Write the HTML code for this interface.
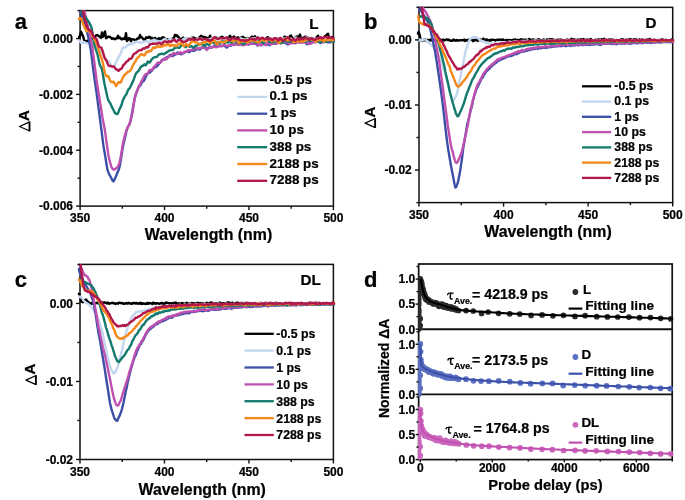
<!DOCTYPE html>
<html><head><meta charset="utf-8"><style>
html,body{margin:0;padding:0;background:#fff;}
.w{width:685px;height:500px;will-change:transform;background:#fff;}
svg{display:block;}
</style></head><body><div class="w">
<svg width="685" height="500" viewBox="0 0 685 500">
<defs><clipPath id="ca"><rect x="77.89999999999999" y="10.299999999999999" width="257.29999999999995" height="196.1"/></clipPath><clipPath id="cb"><rect x="416.8" y="6.75" width="257.70000000000005" height="196.45"/></clipPath><clipPath id="cc"><rect x="77.8" y="263.79999999999995" width="257.4" height="196.3"/></clipPath><clipPath id="cd"><rect x="418.2" y="263.5" width="255.20000000000005" height="196.60000000000002"/></clipPath></defs>
<rect width="685" height="500" fill="#fff"/>
<rect x="80.1" y="10.6" width="253.30" height="195.50" fill="none" stroke="#111" stroke-width="1.5"/>
<polyline points="78.0,37.2 79.0,37.0 80.0,35.9 81.0,31.6 82.0,34.0 83.0,36.0 84.0,39.7 85.0,41.7 86.0,40.9 87.0,41.9 88.0,40.4 89.0,40.4 90.0,39.2 91.0,38.2 92.0,38.8 93.0,38.9 94.0,37.4 95.0,36.4 96.0,35.5 97.0,35.0 98.0,35.5 99.0,36.3 100.0,36.9 101.0,37.9 102.0,32.4 103.0,36.8 104.0,35.3 105.0,31.4 106.0,38.2 107.0,37.8 108.0,36.7 109.0,36.7 110.0,36.9 111.0,37.8 112.0,38.9 113.0,38.3 114.0,38.7 115.0,39.3 116.0,38.5 117.0,38.3 118.0,35.8 119.0,38.2 120.0,37.5 121.0,38.9 122.0,39.4 123.0,38.3 124.0,38.9 125.0,39.0 126.0,33.2 127.0,41.0 128.0,40.0 129.0,38.0 130.0,38.5 131.0,41.3 132.0,39.3 133.0,39.4 134.0,39.4 135.0,40.2 136.0,40.3 137.0,38.9 138.0,38.4 139.0,38.4 140.0,35.0 141.0,37.3 142.0,37.4 143.0,38.7 144.0,40.2 145.0,39.7 146.0,37.5 147.0,37.5 148.0,37.9 149.0,36.7 150.0,37.1 151.0,39.0 152.0,37.8 153.0,39.9 154.0,38.5 155.0,37.9 156.0,39.0 157.0,39.9 158.0,38.8 159.0,38.2 160.0,40.7 161.0,38.6 162.0,37.7 163.0,37.3 164.0,37.7 165.0,38.7 166.0,39.9 167.0,39.9 168.0,39.2 169.0,39.1 170.0,39.1 171.0,39.5 172.0,39.4 173.0,38.5 174.0,37.7 175.0,34.8 176.0,35.9 177.0,35.3 178.0,36.7 179.0,37.5 180.0,39.4 181.0,40.6 182.0,38.5 183.0,37.5 184.0,38.7 185.0,39.1 186.0,38.5 187.0,38.6 188.0,39.4 189.0,38.9 190.0,39.1 191.0,37.9 192.0,37.9 193.0,37.5 194.0,37.8 195.0,38.2 196.0,39.2 197.0,39.3 198.0,38.4 199.0,37.9 200.0,37.0 201.0,35.7 202.0,36.4 203.0,37.2 204.0,36.9 205.0,37.3 206.0,37.5 207.0,37.9 208.0,38.4 209.0,38.9 210.0,35.7 211.0,37.6 212.0,39.8 213.0,40.7 214.0,39.0 215.0,38.1 216.0,37.7 217.0,38.0 218.0,38.9 219.0,38.5 220.0,37.7 221.0,37.3 222.0,36.7 223.0,37.5 224.0,39.1 225.0,39.5 226.0,39.4 227.0,38.7 228.0,37.6 229.0,37.5 230.0,35.7 231.0,38.0 232.0,37.9 233.0,37.3 234.0,36.5 235.0,37.8 236.0,39.5 237.0,38.1 238.0,37.2 239.0,39.0 240.0,39.4 241.0,37.6 242.0,37.2 243.0,36.8 244.0,38.2 245.0,38.3 246.0,38.9 247.0,38.2 248.0,38.0 249.0,38.3 250.0,38.1 251.0,37.5 252.0,36.6 253.0,37.3 254.0,39.0 255.0,36.3 256.0,38.5 257.0,38.4 258.0,37.7 259.0,38.1 260.0,38.7 261.0,38.4 262.0,38.2 263.0,39.1 264.0,40.1 265.0,40.0 266.0,39.0 267.0,37.4 268.0,37.2 269.0,39.3 270.0,40.0 271.0,39.2 272.0,39.4 273.0,40.1 274.0,40.3 275.0,39.7 276.0,39.3 277.0,39.2 278.0,38.4 279.0,39.0 280.0,38.0 281.0,40.7 282.0,41.8 283.0,40.5 284.0,37.2 285.0,36.6 286.0,37.9 287.0,37.9 288.0,38.4 289.0,38.5 290.0,36.1 291.0,35.6 292.0,37.7 293.0,38.6 294.0,38.3 295.0,38.0 296.0,36.8 297.0,36.4 298.0,37.0 299.0,36.5 300.0,34.5 301.0,38.2 302.0,39.0 303.0,38.4 304.0,37.4 305.0,36.8 306.0,36.7 307.0,37.2 308.0,37.9 309.0,38.0 310.0,38.7 311.0,40.2 312.0,40.1 313.0,38.6 314.0,38.7 315.0,38.9 316.0,37.7 317.0,36.8 318.0,35.7 319.0,39.1 320.0,38.9 321.0,38.5 322.0,38.9 323.0,39.6 324.0,38.0 325.0,35.9 326.0,35.6 327.0,34.4 328.0,33.8 329.0,37.0 330.0,39.7 331.0,38.7 332.0,36.9 333.0,37.6 334.0,39.4 335.0,39.4" fill="none" stroke="#000000" stroke-width="2.4" stroke-linejoin="round" clip-path="url(#ca)"/>
<polyline points="78.0,38.6 79.0,40.0 80.0,41.5 81.0,42.8 82.0,43.1 83.0,42.5 84.0,42.2 85.0,42.5 86.0,43.1 87.0,43.4 88.0,43.2 89.0,43.6 90.0,44.0 91.0,44.7 92.0,46.7 93.0,47.3 94.0,46.9 95.0,47.4 96.0,47.1 97.0,46.6 98.0,48.1 99.0,49.7 100.0,50.2 101.0,50.7 102.0,52.0 103.0,53.9 104.0,55.8 105.0,57.0 106.0,58.5 107.0,60.3 108.0,60.8 109.0,61.1 110.0,62.6 111.0,65.3 112.0,66.8 113.0,66.7 114.0,65.8 115.0,64.3 116.0,62.7 117.0,60.8 118.0,58.4 119.0,56.4 120.0,54.8 121.0,52.4 122.0,49.7 123.0,47.6 124.0,47.2 125.0,47.7 126.0,47.0 127.0,45.8 128.0,44.8 129.0,44.1 130.0,44.4 131.0,44.6 132.0,43.7 133.0,43.1 134.0,43.0 135.0,42.4 136.0,41.7 137.0,41.6 138.0,42.1 139.0,42.4 140.0,42.2 141.0,42.8 142.0,43.2 143.0,42.1 144.0,41.5 145.0,41.7 146.0,41.4 147.0,41.1 148.0,42.1 149.0,42.8 150.0,41.7 151.0,40.6 152.0,40.4 153.0,40.4 154.0,39.8 155.0,40.0 156.0,40.7 157.0,40.6 158.0,41.2 159.0,41.7 160.0,41.0 161.0,41.2 162.0,41.5 163.0,40.4 164.0,39.2 165.0,39.0 166.0,40.1 167.0,41.3 168.0,40.8 169.0,39.3 170.0,38.9 171.0,39.4 172.0,39.8 173.0,39.9 174.0,40.0 175.0,40.0 176.0,39.7 177.0,39.7 178.0,39.8 179.0,39.9 180.0,40.6 181.0,41.3 182.0,40.7 183.0,39.3 184.0,38.7 185.0,38.7 186.0,38.0 187.0,38.3 188.0,39.9 189.0,40.3 190.0,39.1 191.0,38.3 192.0,38.5 193.0,39.2 194.0,40.5 195.0,41.3 196.0,40.1 197.0,38.7 198.0,38.5 199.0,39.0 200.0,39.0 201.0,38.7 202.0,38.8 203.0,39.1 204.0,40.2 205.0,40.9 206.0,40.4 207.0,39.7 208.0,39.6 209.0,39.4 210.0,39.0 211.0,38.7 212.0,38.0 213.0,38.3 214.0,39.4 215.0,39.6 216.0,39.8 217.0,39.6 218.0,38.4 219.0,38.4 220.0,39.4 221.0,39.6 222.0,39.6 223.0,40.0 224.0,39.5 225.0,38.4 226.0,38.7 227.0,39.8 228.0,39.3 229.0,38.7 230.0,39.8 231.0,40.6 232.0,40.3 233.0,39.5 234.0,38.7 235.0,39.4 236.0,40.6 237.0,40.6 238.0,40.1 239.0,39.5 240.0,38.7 241.0,38.2 242.0,38.9 243.0,39.4 244.0,39.2 245.0,39.7 246.0,39.6 247.0,38.6 248.0,38.5 249.0,38.8 250.0,39.0 251.0,38.7 252.0,38.5 253.0,38.5 254.0,38.1 255.0,38.1 256.0,39.1 257.0,39.4 258.0,38.6 259.0,38.6 260.0,38.5 261.0,38.7 262.0,39.4 263.0,39.7 264.0,39.8 265.0,39.4 266.0,39.2 267.0,39.0 268.0,38.9 269.0,39.4 270.0,39.6 271.0,39.6 272.0,39.1 273.0,38.5 274.0,38.9 275.0,39.6 276.0,39.6 277.0,39.0 278.0,38.4 279.0,38.3 280.0,38.8 281.0,38.2 282.0,37.7 283.0,39.0 284.0,39.4 285.0,38.2 286.0,37.8 287.0,38.0 288.0,38.4 289.0,38.8 290.0,38.6 291.0,38.7 292.0,39.1 293.0,39.1 294.0,38.9 295.0,38.3 296.0,37.5 297.0,38.2 298.0,39.7 299.0,39.7 300.0,39.3 301.0,39.3 302.0,39.3 303.0,39.9 304.0,40.1 305.0,38.6 306.0,37.5 307.0,37.6 308.0,38.3 309.0,39.5 310.0,39.7 311.0,38.4 312.0,37.9 313.0,39.0 314.0,39.1 315.0,38.0 316.0,38.3 317.0,39.0 318.0,39.2 319.0,38.7 320.0,38.2 321.0,37.8 322.0,38.5 323.0,40.1 324.0,40.1 325.0,38.9 326.0,37.9 327.0,37.6 328.0,38.3 329.0,39.0 330.0,39.1 331.0,38.7 332.0,38.4 333.0,38.8 334.0,39.6 335.0,40.0" fill="none" stroke="#c2d6ef" stroke-width="2.4" stroke-linejoin="round" clip-path="url(#ca)"/>
<polyline points="78.5,1.0 79.5,8.5 80.5,12.3 81.5,15.3 82.5,17.6 83.5,20.0 84.5,23.0 85.5,26.2 86.5,29.9 87.5,33.8 88.5,38.1 89.5,42.9 90.5,48.3 91.5,55.2 92.5,63.4 93.5,71.4 94.5,78.8 95.5,85.5 96.5,92.2 97.5,99.9 98.5,107.5 99.5,115.3 100.5,122.9 101.5,130.3 102.5,138.6 103.5,146.1 104.5,152.0 105.5,157.8 106.5,164.2 107.5,169.9 108.5,172.7 109.5,174.8 110.5,176.5 111.5,178.5 112.5,180.6 113.5,181.4 114.5,179.6 115.5,177.2 116.5,174.9 117.5,172.5 118.5,170.3 119.5,166.9 120.5,161.9 121.5,155.8 122.5,149.1 123.5,144.0 124.5,139.7 125.5,135.4 126.5,131.1 127.5,127.7 128.5,126.0 129.5,124.3 130.5,121.0 131.5,115.9 132.5,110.0 133.5,104.9 134.5,99.3 135.5,95.1 136.5,92.7 137.5,89.9 138.5,87.3 139.5,86.2 140.5,85.1 141.5,83.1 142.5,81.8 143.5,81.3 144.5,79.7 145.5,77.3 146.5,75.3 147.5,73.6 148.5,72.9 149.5,72.7 150.5,71.9 151.5,71.0 152.5,69.9 153.5,68.4 154.5,67.6 155.5,67.2 156.5,66.6 157.5,65.7 158.5,64.4 159.5,63.1 160.5,62.1 161.5,60.6 162.5,59.7 163.5,59.9 164.5,59.6 165.5,58.5 166.5,57.3 167.5,56.9 168.5,56.6 169.5,55.5 170.5,54.8 171.5,55.4 172.5,56.1 173.5,55.5 174.5,54.6 175.5,54.5 176.5,53.8 177.5,52.5 178.5,52.9 179.5,53.7 180.5,54.0 181.5,54.2 182.5,53.7 183.5,52.8 184.5,52.4 185.5,52.1 186.5,51.3 187.5,51.3 188.5,52.1 189.5,52.1 190.5,51.0 191.5,50.4 192.5,50.7 193.5,50.8 194.5,50.6 195.5,50.2 196.5,49.3 197.5,48.8 198.5,49.1 199.5,49.6 200.5,49.1 201.5,47.7 202.5,47.5 203.5,48.0 204.5,47.4 205.5,47.2 206.5,48.1 207.5,48.3 208.5,47.7 209.5,47.5 210.5,47.6 211.5,47.5 212.5,47.2 213.5,46.3 214.5,46.0 215.5,46.2 216.5,46.3 217.5,46.6 218.5,46.3 219.5,45.7 220.5,45.7 221.5,45.9 222.5,46.0 223.5,45.4 224.5,45.5 225.5,46.7 226.5,47.6 227.5,47.1 228.5,45.9 229.5,45.7 230.5,45.9 231.5,45.0 232.5,44.3 233.5,44.7 234.5,44.8 235.5,43.9 236.5,43.1 237.5,43.5 238.5,44.3 239.5,44.2 240.5,44.2 241.5,44.7 242.5,44.7 243.5,44.5 244.5,44.3 245.5,43.8 246.5,43.5 247.5,43.9 248.5,44.5 249.5,44.2 250.5,43.6 251.5,43.6 252.5,44.0 253.5,43.9 254.5,43.0 255.5,42.8 256.5,44.1 257.5,45.5 258.5,45.1 259.5,44.2 260.5,44.7 261.5,45.1 262.5,44.1 263.5,43.7 264.5,44.4 265.5,44.4 266.5,44.0 267.5,44.0 268.5,44.9 269.5,45.2 270.5,44.4 271.5,43.4 272.5,42.6 273.5,43.1 274.5,43.5 275.5,43.7 276.5,43.7 277.5,42.7 278.5,42.2 279.5,42.7 280.5,42.7 281.5,42.5 282.5,42.5 283.5,42.0 284.5,41.9 285.5,43.1 286.5,43.7 287.5,44.2 288.5,44.3 289.5,42.9 290.5,41.5 291.5,41.4 292.5,41.6 293.5,42.1 294.5,42.0 295.5,41.6 296.5,41.8 297.5,41.9 298.5,42.3 299.5,42.4 300.5,42.3 301.5,42.2 302.5,41.9 303.5,41.4 304.5,41.2 305.5,42.4 306.5,43.9 307.5,44.3 308.5,43.8 309.5,42.8 310.5,42.4 311.5,42.8 312.5,42.5 313.5,41.9 314.5,41.9 315.5,41.9 316.5,41.8 317.5,41.5 318.5,41.2 319.5,42.0 320.5,43.1 321.5,42.4 322.5,41.8 323.5,42.2 324.5,42.0 325.5,41.2 326.5,41.5 327.5,42.2 328.5,42.1 329.5,42.2 330.5,42.3 331.5,41.6 332.5,41.2 333.5,41.6 334.5,42.2" fill="none" stroke="#3b4fa6" stroke-width="2.4" stroke-linejoin="round" clip-path="url(#ca)"/>
<polyline points="78.5,-8.0 79.5,-5.3 80.5,-1.8 81.5,2.0 82.5,5.8 83.5,8.8 84.5,11.6 85.5,15.8 86.5,20.0 87.5,24.3 88.5,29.2 89.5,33.2 90.5,37.7 91.5,43.5 92.5,49.3 93.5,56.0 94.5,63.6 95.5,71.6 96.5,79.7 97.5,86.3 98.5,92.1 99.5,98.6 100.5,104.9 101.5,111.3 102.5,117.8 103.5,122.8 104.5,128.0 105.5,134.8 106.5,141.8 107.5,148.8 108.5,155.4 109.5,160.0 110.5,163.9 111.5,167.1 112.5,168.7 113.5,169.5 114.5,169.5 115.5,168.6 116.5,168.0 117.5,167.2 118.5,165.4 119.5,162.3 120.5,158.3 121.5,152.3 122.5,145.8 123.5,140.9 124.5,137.1 125.5,133.4 126.5,130.0 127.5,127.7 128.5,125.7 129.5,123.6 130.5,120.7 131.5,117.0 132.5,112.5 133.5,106.4 134.5,99.2 135.5,94.7 136.5,92.2 137.5,89.9 138.5,87.1 139.5,85.0 140.5,83.3 141.5,81.1 142.5,79.3 143.5,77.5 144.5,75.4 145.5,74.3 146.5,74.1 147.5,73.6 148.5,71.9 149.5,70.1 150.5,69.9 151.5,70.1 152.5,69.1 153.5,67.4 154.5,66.2 155.5,65.6 156.5,64.2 157.5,62.7 158.5,62.6 159.5,63.0 160.5,62.4 161.5,61.3 162.5,60.3 163.5,59.5 164.5,58.4 165.5,58.5 166.5,59.3 167.5,58.1 168.5,56.4 169.5,55.9 170.5,56.2 171.5,56.0 172.5,54.3 173.5,53.1 174.5,53.4 175.5,53.7 176.5,53.9 177.5,54.1 178.5,53.7 179.5,52.8 180.5,52.1 181.5,52.9 182.5,53.6 183.5,52.7 184.5,51.7 185.5,51.8 186.5,51.7 187.5,50.5 188.5,50.1 189.5,50.6 190.5,50.4 191.5,49.8 192.5,49.5 193.5,49.3 194.5,49.1 195.5,48.5 196.5,48.0 197.5,48.5 198.5,48.7 199.5,47.9 200.5,47.9 201.5,48.0 202.5,47.5 203.5,47.2 204.5,47.4 205.5,48.6 206.5,49.9 207.5,49.2 208.5,47.9 209.5,47.4 210.5,47.2 211.5,47.4 212.5,47.3 213.5,46.5 214.5,46.7 215.5,47.1 216.5,47.2 217.5,46.5 218.5,45.8 219.5,46.2 220.5,46.4 221.5,46.2 222.5,45.8 223.5,44.7 224.5,44.2 225.5,45.5 226.5,46.1 227.5,45.6 228.5,45.6 229.5,45.6 230.5,44.8 231.5,44.3 232.5,44.9 233.5,45.1 234.5,44.6 235.5,44.8 236.5,44.3 237.5,44.1 238.5,45.0 239.5,44.4 240.5,43.5 241.5,44.1 242.5,45.2 243.5,45.3 244.5,44.5 245.5,44.6 246.5,44.6 247.5,44.1 248.5,44.1 249.5,44.0 250.5,43.5 251.5,43.5 252.5,43.9 253.5,43.8 254.5,43.4 255.5,43.8 256.5,44.5 257.5,44.6 258.5,44.8 259.5,45.0 260.5,45.2 261.5,45.1 262.5,44.1 263.5,43.7 264.5,44.2 265.5,45.2 266.5,44.6 267.5,42.4 268.5,42.4 269.5,43.8 270.5,44.3 271.5,44.0 272.5,43.6 273.5,43.7 274.5,43.8 275.5,43.7 276.5,43.1 277.5,42.2 278.5,42.5 279.5,42.9 280.5,43.3 281.5,42.9 282.5,42.5 283.5,42.6 284.5,42.2 285.5,41.5 286.5,41.6 287.5,42.5 288.5,43.5 289.5,43.6 290.5,43.4 291.5,43.4 292.5,43.0 293.5,42.8 294.5,43.3 295.5,43.4 296.5,42.6 297.5,42.3 298.5,42.4 299.5,42.2 300.5,42.3 301.5,42.7 302.5,42.6 303.5,42.3 304.5,42.1 305.5,42.4 306.5,42.5 307.5,42.8 308.5,43.5 309.5,43.7 310.5,43.8 311.5,43.1 312.5,41.9 313.5,41.8 314.5,42.2 315.5,42.2 316.5,42.0 317.5,41.2 318.5,40.6 319.5,40.5 320.5,40.5 321.5,41.1 322.5,41.2 323.5,41.0 324.5,41.5 325.5,41.4 326.5,40.3 327.5,39.7 328.5,39.7 329.5,39.6 330.5,40.8 331.5,41.9 332.5,41.6 333.5,41.1 334.5,40.8" fill="none" stroke="#bf50b0" stroke-width="2.4" stroke-linejoin="round" clip-path="url(#ca)"/>
<polyline points="78.5,0.5 79.5,2.1 80.5,5.0 81.5,10.7 82.5,13.9 83.5,15.3 84.5,15.9 85.5,17.2 86.5,18.8 87.5,20.2 88.5,21.4 89.5,23.2 90.5,25.1 91.5,27.7 92.5,32.9 93.5,40.2 94.5,45.2 95.5,48.4 96.5,51.4 97.5,54.3 98.5,59.1 99.5,64.0 100.5,66.3 101.5,67.9 102.5,72.0 103.5,78.2 104.5,83.9 105.5,88.4 106.5,92.9 107.5,97.5 108.5,100.6 109.5,102.1 110.5,103.7 111.5,106.1 112.5,108.1 113.5,110.0 114.5,112.4 115.5,113.5 116.5,114.0 117.5,114.1 118.5,111.9 119.5,109.0 120.5,107.4 121.5,105.1 122.5,101.5 123.5,98.9 124.5,96.9 125.5,95.5 126.5,94.1 127.5,91.3 128.5,89.4 129.5,88.4 130.5,86.5 131.5,84.5 132.5,82.3 133.5,80.2 134.5,77.4 135.5,74.3 136.5,72.8 137.5,72.0 138.5,70.9 139.5,69.4 140.5,67.3 141.5,66.3 142.5,66.1 143.5,65.1 144.5,64.3 145.5,65.3 146.5,64.3 147.5,61.6 148.5,61.7 149.5,62.7 150.5,61.5 151.5,59.7 152.5,58.5 153.5,57.7 154.5,57.2 155.5,57.1 156.5,57.0 157.5,56.1 158.5,54.9 159.5,54.3 160.5,54.1 161.5,53.6 162.5,53.8 163.5,54.2 164.5,53.8 165.5,53.1 166.5,52.5 167.5,51.7 168.5,51.0 169.5,50.7 170.5,50.4 171.5,49.9 172.5,50.1 173.5,49.4 174.5,48.1 175.5,47.7 176.5,47.6 177.5,47.6 178.5,47.7 179.5,47.8 180.5,46.3 181.5,44.8 182.5,44.7 183.5,44.9 184.5,46.1 185.5,47.3 186.5,46.5 187.5,44.9 188.5,45.4 189.5,46.8 190.5,46.4 191.5,46.0 192.5,47.0 193.5,47.9 194.5,47.1 195.5,45.8 196.5,45.6 197.5,45.4 198.5,44.4 199.5,43.9 200.5,44.1 201.5,44.1 202.5,44.4 203.5,45.5 204.5,46.0 205.5,44.7 206.5,43.9 207.5,44.3 208.5,44.8 209.5,44.8 210.5,43.6 211.5,42.4 212.5,41.9 213.5,42.5 214.5,43.6 215.5,43.3 216.5,42.5 217.5,42.7 218.5,43.3 219.5,43.4 220.5,42.8 221.5,42.0 222.5,41.2 223.5,42.1 224.5,42.9 225.5,41.7 226.5,41.8 227.5,42.7 228.5,42.2 229.5,41.9 230.5,42.3 231.5,42.5 232.5,41.8 233.5,41.1 234.5,41.4 235.5,41.6 236.5,41.8 237.5,42.6 238.5,43.2 239.5,43.0 240.5,42.6 241.5,43.2 242.5,43.8 243.5,44.0 244.5,43.5 245.5,42.5 246.5,42.2 247.5,42.1 248.5,41.4 249.5,41.5 250.5,41.5 251.5,40.9 252.5,40.2 253.5,40.6 254.5,41.9 255.5,42.9 256.5,42.9 257.5,42.0 258.5,41.3 259.5,41.2 260.5,41.6 261.5,41.9 262.5,42.7 263.5,43.2 264.5,41.7 265.5,40.2 266.5,39.9 267.5,39.7 268.5,40.6 269.5,42.1 270.5,41.6 271.5,40.7 272.5,41.8 273.5,42.5 274.5,41.4 275.5,40.6 276.5,41.0 277.5,41.7 278.5,42.3 279.5,42.9 280.5,43.0 281.5,43.1 282.5,42.9 283.5,41.6 284.5,40.3 285.5,40.6 286.5,41.2 287.5,41.3 288.5,41.5 289.5,40.8 290.5,40.8 291.5,42.0 292.5,42.1 293.5,41.8 294.5,42.1 295.5,42.2 296.5,40.7 297.5,39.0 298.5,39.3 299.5,39.9 300.5,40.1 301.5,41.1 302.5,41.6 303.5,40.5 304.5,40.5 305.5,41.7 306.5,40.7 307.5,39.8 308.5,40.6 309.5,40.8 310.5,40.6 311.5,40.8 312.5,40.2 313.5,39.8 314.5,40.7 315.5,41.0 316.5,40.5 317.5,40.5 318.5,41.6 319.5,42.3 320.5,41.5 321.5,41.2 322.5,40.9 323.5,40.6 324.5,41.2 325.5,41.8 326.5,41.8 327.5,40.9 328.5,39.9 329.5,39.9 330.5,40.7 331.5,41.5 332.5,41.7 333.5,41.5 334.5,41.2" fill="none" stroke="#137a6d" stroke-width="2.4" stroke-linejoin="round" clip-path="url(#ca)"/>
<polyline points="78.0,19.7 79.0,18.9 80.0,17.9 81.0,18.3 82.0,20.4 83.0,23.8 84.0,26.0 85.0,28.2 86.0,30.3 87.0,31.4 88.0,31.3 89.0,30.6 90.0,30.8 91.0,32.5 92.0,34.4 93.0,36.0 94.0,38.7 95.0,41.0 96.0,42.4 97.0,44.7 98.0,47.5 99.0,50.7 100.0,54.1 101.0,57.0 102.0,59.8 103.0,63.4 104.0,69.0 105.0,72.8 106.0,75.8 107.0,76.5 108.0,76.0 109.0,77.6 110.0,80.3 111.0,81.9 112.0,82.1 113.0,81.6 114.0,82.1 115.0,84.6 116.0,86.0 117.0,84.7 118.0,82.9 119.0,81.9 120.0,82.8 121.0,82.1 122.0,79.3 123.0,77.5 124.0,75.7 125.0,74.4 126.0,73.9 127.0,72.6 128.0,71.7 129.0,71.6 130.0,70.9 131.0,69.5 132.0,67.5 133.0,65.1 134.0,63.3 135.0,62.1 136.0,60.3 137.0,58.4 138.0,57.5 139.0,56.6 140.0,55.3 141.0,54.3 142.0,54.2 143.0,54.8 144.0,55.5 145.0,54.8 146.0,52.4 147.0,51.6 148.0,52.1 149.0,51.2 150.0,50.9 151.0,51.1 152.0,49.5 153.0,47.6 154.0,47.3 155.0,48.0 156.0,47.6 157.0,46.1 158.0,46.0 159.0,47.0 160.0,46.9 161.0,46.3 162.0,46.6 163.0,46.0 164.0,44.6 165.0,45.0 166.0,45.6 167.0,44.4 168.0,43.5 169.0,44.5 170.0,46.1 171.0,45.6 172.0,44.8 173.0,45.5 174.0,45.2 175.0,45.4 176.0,46.2 177.0,45.7 178.0,44.5 179.0,43.8 180.0,44.0 181.0,43.0 182.0,43.0 183.0,45.4 184.0,46.2 185.0,45.1 186.0,44.3 187.0,45.0 188.0,45.9 189.0,45.3 190.0,43.6 191.0,42.4 192.0,41.9 193.0,40.9 194.0,41.1 195.0,42.2 196.0,42.2 197.0,42.4 198.0,43.4 199.0,44.6 200.0,44.3 201.0,43.5 202.0,43.1 203.0,42.2 204.0,42.2 205.0,42.5 206.0,41.6 207.0,41.1 208.0,41.2 209.0,42.4 210.0,43.1 211.0,42.2 212.0,41.6 213.0,41.0 214.0,40.3 215.0,41.1 216.0,43.4 217.0,44.3 218.0,42.8 219.0,41.7 220.0,41.9 221.0,42.0 222.0,42.2 223.0,42.3 224.0,42.1 225.0,41.9 226.0,41.2 227.0,40.4 228.0,39.9 229.0,40.0 230.0,40.2 231.0,40.4 232.0,40.7 233.0,41.3 234.0,41.2 235.0,40.2 236.0,39.8 237.0,40.6 238.0,42.1 239.0,43.1 240.0,42.3 241.0,41.8 242.0,41.6 243.0,41.1 244.0,41.4 245.0,40.2 246.0,39.8 247.0,42.6 248.0,42.8 249.0,40.9 250.0,40.7 251.0,40.9 252.0,40.4 253.0,39.6 254.0,40.1 255.0,41.1 256.0,41.7 257.0,41.9 258.0,42.2 259.0,42.3 260.0,41.2 261.0,40.0 262.0,39.0 263.0,39.6 264.0,40.9 265.0,40.7 266.0,40.7 267.0,40.4 268.0,39.7 269.0,39.8 270.0,39.9 271.0,40.3 272.0,41.2 273.0,41.1 274.0,40.0 275.0,39.7 276.0,40.3 277.0,40.9 278.0,42.1 279.0,43.0 280.0,42.0 281.0,40.6 282.0,39.9 283.0,39.3 284.0,39.0 285.0,39.1 286.0,39.5 287.0,40.1 288.0,40.5 289.0,40.1 290.0,39.5 291.0,39.8 292.0,41.1 293.0,41.8 294.0,41.9 295.0,41.9 296.0,41.4 297.0,40.7 298.0,41.5 299.0,41.8 300.0,40.5 301.0,41.0 302.0,41.8 303.0,41.2 304.0,41.1 305.0,40.9 306.0,40.0 307.0,39.6 308.0,39.1 309.0,38.8 310.0,39.1 311.0,39.5 312.0,40.0 313.0,39.7 314.0,39.6 315.0,41.2 316.0,41.6 317.0,40.6 318.0,39.7 319.0,39.7 320.0,40.2 321.0,39.6 322.0,38.8 323.0,40.7 324.0,41.4 325.0,39.7 326.0,39.8 327.0,40.2 328.0,40.1 329.0,40.1 330.0,39.2 331.0,39.8 332.0,40.6 333.0,39.8 334.0,39.1 335.0,39.4" fill="none" stroke="#f4891a" stroke-width="2.4" stroke-linejoin="round" clip-path="url(#ca)"/>
<polyline points="78.5,-14.7 79.5,-8.2 80.5,-2.7 81.5,2.7 82.5,8.0 83.5,13.7 84.5,18.1 85.5,21.1 86.5,25.5 87.5,27.6 88.5,29.2 89.5,30.6 90.5,30.2 91.5,31.5 92.5,34.4 93.5,36.3 94.5,37.8 95.5,38.2 96.5,38.9 97.5,42.0 98.5,45.3 99.5,47.0 100.5,47.4 101.5,47.9 102.5,50.7 103.5,54.2 104.5,57.8 105.5,59.3 106.5,60.7 107.5,63.3 108.5,65.4 109.5,66.0 110.5,65.9 111.5,66.4 112.5,66.7 113.5,66.3 114.5,67.2 115.5,68.9 116.5,69.3 117.5,70.0 118.5,70.9 119.5,69.9 120.5,68.9 121.5,68.7 122.5,66.9 123.5,64.9 124.5,64.3 125.5,63.1 126.5,61.6 127.5,61.2 128.5,60.1 129.5,58.8 130.5,58.9 131.5,58.5 132.5,56.5 133.5,54.4 134.5,53.6 135.5,53.4 136.5,52.4 137.5,51.4 138.5,51.0 139.5,50.0 140.5,50.1 141.5,50.3 142.5,48.9 143.5,48.4 144.5,48.7 145.5,47.8 146.5,47.1 147.5,47.5 148.5,46.7 149.5,44.7 150.5,44.1 151.5,44.1 152.5,43.7 153.5,43.5 154.5,43.7 155.5,43.8 156.5,43.4 157.5,43.5 158.5,43.4 159.5,42.7 160.5,43.4 161.5,44.2 162.5,43.2 163.5,42.0 164.5,41.5 165.5,41.4 166.5,42.1 167.5,42.3 168.5,41.3 169.5,41.5 170.5,42.0 171.5,41.4 172.5,40.8 173.5,40.0 174.5,39.7 175.5,41.0 176.5,42.1 177.5,41.0 178.5,39.8 179.5,39.8 180.5,40.4 181.5,40.9 182.5,41.5 183.5,42.0 184.5,41.8 185.5,41.5 186.5,41.2 187.5,40.1 188.5,39.2 189.5,39.4 190.5,39.8 191.5,39.0 192.5,38.6 193.5,39.7 194.5,39.8 195.5,39.3 196.5,39.4 197.5,39.7 198.5,39.6 199.5,38.6 200.5,38.7 201.5,39.7 202.5,39.8 203.5,39.3 204.5,38.8 205.5,38.8 206.5,39.7 207.5,40.1 208.5,39.8 209.5,40.7 210.5,40.6 211.5,39.8 212.5,39.4 213.5,38.0 214.5,37.1 215.5,37.7 216.5,38.5 217.5,38.9 218.5,39.0 219.5,38.5 220.5,38.0 221.5,38.4 222.5,38.3 223.5,38.2 224.5,38.4 225.5,37.8 226.5,37.5 227.5,38.1 228.5,39.2 229.5,40.0 230.5,39.7 231.5,38.5 232.5,38.0 233.5,38.5 234.5,38.6 235.5,38.4 236.5,39.3 237.5,39.1 238.5,38.7 239.5,39.7 240.5,40.4 241.5,40.4 242.5,40.3 243.5,40.3 244.5,40.8 245.5,40.7 246.5,40.2 247.5,40.4 248.5,40.0 249.5,39.0 250.5,38.5 251.5,39.0 252.5,39.2 253.5,38.8 254.5,39.4 255.5,39.9 256.5,38.7 257.5,37.6 258.5,38.5 259.5,39.4 260.5,38.9 261.5,38.0 262.5,37.6 263.5,38.5 264.5,39.2 265.5,38.9 266.5,38.3 267.5,38.9 268.5,39.5 269.5,39.3 270.5,38.5 271.5,39.1 272.5,40.3 273.5,39.0 274.5,38.1 275.5,38.2 276.5,38.6 277.5,40.3 278.5,40.6 279.5,38.5 280.5,37.9 281.5,39.7 282.5,40.6 283.5,40.5 284.5,39.9 285.5,38.7 286.5,38.0 287.5,37.3 288.5,37.7 289.5,38.9 290.5,39.7 291.5,40.5 292.5,39.6 293.5,38.8 294.5,40.0 295.5,40.8 296.5,39.5 297.5,38.3 298.5,39.2 299.5,39.9 300.5,38.7 301.5,38.4 302.5,39.4 303.5,38.9 304.5,37.9 305.5,37.8 306.5,38.2 307.5,38.8 308.5,39.4 309.5,40.0 310.5,39.1 311.5,38.0 312.5,38.8 313.5,39.7 314.5,39.8 315.5,39.5 316.5,38.3 317.5,38.1 318.5,38.6 319.5,37.4 320.5,37.0 321.5,38.3 322.5,38.3 323.5,37.6 324.5,36.9 325.5,36.6 326.5,37.0 327.5,38.0 328.5,37.8 329.5,37.2 330.5,37.8 331.5,37.5 332.5,37.5 333.5,38.6 334.5,38.7" fill="none" stroke="#b2174b" stroke-width="2.4" stroke-linejoin="round" clip-path="url(#ca)"/>
<line x1="80.10" y1="206.1" x2="80.10" y2="210.1" stroke="#111" stroke-width="1.4"/>
<text x="80.1" y="222" font-size="12" text-anchor="middle" font-family="Liberation Sans, sans-serif" font-weight="bold" stroke="#000" stroke-width="0.22" >350</text>
<line x1="122.32" y1="206.1" x2="122.32" y2="208.7" stroke="#111" stroke-width="1.4"/>
<line x1="164.53" y1="206.1" x2="164.53" y2="210.1" stroke="#111" stroke-width="1.4"/>
<text x="164.5" y="222" font-size="12" text-anchor="middle" font-family="Liberation Sans, sans-serif" font-weight="bold" stroke="#000" stroke-width="0.22" >400</text>
<line x1="206.75" y1="206.1" x2="206.75" y2="208.7" stroke="#111" stroke-width="1.4"/>
<line x1="248.97" y1="206.1" x2="248.97" y2="210.1" stroke="#111" stroke-width="1.4"/>
<text x="249.0" y="222" font-size="12" text-anchor="middle" font-family="Liberation Sans, sans-serif" font-weight="bold" stroke="#000" stroke-width="0.22" >450</text>
<line x1="291.18" y1="206.1" x2="291.18" y2="208.7" stroke="#111" stroke-width="1.4"/>
<line x1="333.40" y1="206.1" x2="333.40" y2="210.1" stroke="#111" stroke-width="1.4"/>
<text x="333.4" y="222" font-size="12" text-anchor="middle" font-family="Liberation Sans, sans-serif" font-weight="bold" stroke="#000" stroke-width="0.22" >500</text>
<line x1="80.1" y1="10.60" x2="77.5" y2="10.60" stroke="#111" stroke-width="1.4"/>
<line x1="80.1" y1="38.53" x2="76.1" y2="38.53" stroke="#111" stroke-width="1.4"/>
<text x="73" y="42.8" font-size="12" text-anchor="end" font-family="Liberation Sans, sans-serif" font-weight="bold" stroke="#000" stroke-width="0.22" >0.000</text>
<line x1="80.1" y1="66.46" x2="77.5" y2="66.46" stroke="#111" stroke-width="1.4"/>
<line x1="80.1" y1="94.39" x2="76.1" y2="94.39" stroke="#111" stroke-width="1.4"/>
<text x="73" y="98.7" font-size="12" text-anchor="end" font-family="Liberation Sans, sans-serif" font-weight="bold" stroke="#000" stroke-width="0.22" >-0.002</text>
<line x1="80.1" y1="122.31" x2="77.5" y2="122.31" stroke="#111" stroke-width="1.4"/>
<line x1="80.1" y1="150.24" x2="76.1" y2="150.24" stroke="#111" stroke-width="1.4"/>
<text x="73" y="154.5" font-size="12" text-anchor="end" font-family="Liberation Sans, sans-serif" font-weight="bold" stroke="#000" stroke-width="0.22" >-0.004</text>
<line x1="80.1" y1="178.17" x2="77.5" y2="178.17" stroke="#111" stroke-width="1.4"/>
<line x1="80.1" y1="206.10" x2="76.1" y2="206.10" stroke="#111" stroke-width="1.4"/>
<text x="73" y="210.4" font-size="12" text-anchor="end" font-family="Liberation Sans, sans-serif" font-weight="bold" stroke="#000" stroke-width="0.22" >-0.006</text>
<text x="14.8" y="28.7" font-size="22" text-anchor="start" font-family="Liberation Sans, sans-serif" font-weight="bold" stroke="#000" stroke-width="0.22" >a</text>
<text x="309.2" y="29.1" font-size="15.2" text-anchor="start" font-family="Liberation Sans, sans-serif" font-weight="bold" stroke="#000" stroke-width="0.22" >L</text>
<text x="208.5" y="240.3" font-size="15.9" text-anchor="middle" font-family="Liberation Sans, sans-serif" font-weight="bold" stroke="#000" stroke-width="0.22" >Wavelength (nm)</text>
<path d="M29.70,121.90 L19.50,126.50 L29.70,131.00" fill="none" stroke="#000" stroke-width="1.2" stroke-linejoin="round"/><line x1="29.50" y1="121.60" x2="29.50" y2="131.30" stroke="#000" stroke-width="1.9"/><text x="0" y="0" font-size="15" text-anchor="start" font-family="Liberation Sans, sans-serif" font-weight="bold" stroke="#000" stroke-width="0.22" transform="translate(29.00,121.00) rotate(-90)">A</text>
<line x1="237.2" y1="80.1" x2="267.2" y2="80.1" stroke="#000000" stroke-width="2.3"/>
<text x="269.6" y="83.6" font-size="13.4" text-anchor="start" font-family="Liberation Sans, sans-serif" font-weight="bold" stroke="#000" stroke-width="0.22" >-0.5 ps</text>
<line x1="237.2" y1="96.9" x2="267.2" y2="96.9" stroke="#c2d6ef" stroke-width="2.3"/>
<text x="269.6" y="100.4" font-size="13.4" text-anchor="start" font-family="Liberation Sans, sans-serif" font-weight="bold" stroke="#000" stroke-width="0.22" >0.1 ps</text>
<line x1="237.2" y1="113.7" x2="267.2" y2="113.7" stroke="#3b4fa6" stroke-width="2.3"/>
<text x="269.6" y="117.2" font-size="13.4" text-anchor="start" font-family="Liberation Sans, sans-serif" font-weight="bold" stroke="#000" stroke-width="0.22" >1 ps</text>
<line x1="237.2" y1="130.4" x2="267.2" y2="130.4" stroke="#bf50b0" stroke-width="2.3"/>
<text x="269.6" y="133.9" font-size="13.4" text-anchor="start" font-family="Liberation Sans, sans-serif" font-weight="bold" stroke="#000" stroke-width="0.22" >10 ps</text>
<line x1="237.2" y1="147.2" x2="267.2" y2="147.2" stroke="#137a6d" stroke-width="2.3"/>
<text x="269.6" y="150.7" font-size="13.4" text-anchor="start" font-family="Liberation Sans, sans-serif" font-weight="bold" stroke="#000" stroke-width="0.22" >388 ps</text>
<line x1="237.2" y1="164.0" x2="267.2" y2="164.0" stroke="#f4891a" stroke-width="2.3"/>
<text x="269.6" y="167.5" font-size="13.4" text-anchor="start" font-family="Liberation Sans, sans-serif" font-weight="bold" stroke="#000" stroke-width="0.22" >2188 ps</text>
<line x1="237.2" y1="180.8" x2="267.2" y2="180.8" stroke="#b2174b" stroke-width="2.3"/>
<text x="269.6" y="184.3" font-size="13.4" text-anchor="start" font-family="Liberation Sans, sans-serif" font-weight="bold" stroke="#000" stroke-width="0.22" >7288 ps</text>
<rect x="419.0" y="7.35" width="253.70" height="195.25" fill="none" stroke="#111" stroke-width="1.5"/>
<polyline points="417.0,32.2 417.8,33.6 418.6,32.0 419.4,34.0 420.2,37.6 421.0,40.2 421.8,40.2 422.6,41.0 423.4,39.8 424.2,40.5 425.0,39.4 425.8,39.6 426.6,40.9 427.4,40.0 428.2,39.9 429.0,41.1 429.8,40.1 430.6,39.5 431.4,40.4 432.2,39.3 433.0,40.6 433.8,40.7 434.6,39.8 435.4,39.8 436.2,40.2 437.0,40.2 437.8,39.6 438.6,40.5 439.4,39.1 440.2,40.0 441.0,40.0 441.8,40.0 442.6,40.4 443.4,39.5 444.2,40.5 445.0,40.1 445.8,39.8 446.6,39.4 447.4,39.5 448.2,40.3 449.0,39.6 449.8,40.2 450.6,40.7 451.4,40.7 452.2,40.9 453.0,39.9 453.8,39.5 454.6,40.6 455.4,40.2 456.2,40.7 457.0,40.0 457.8,40.7 458.6,40.5 459.4,40.4 460.2,40.3 461.0,40.2 461.8,40.1 462.6,40.1 463.4,40.5 464.2,39.6 465.0,40.9 465.8,39.9 466.6,40.5 467.4,39.9 468.2,39.8 469.0,41.0 469.8,39.7 470.6,39.2 471.4,39.5 472.2,39.7 473.0,41.1 473.8,40.0 474.6,40.4 475.4,39.4 476.2,40.1 477.0,40.3 477.8,40.9 478.6,39.5 479.4,40.2 480.2,40.1 481.0,39.4 481.8,39.9 482.6,39.8 483.4,38.6 484.2,40.2 485.0,40.2 485.8,39.7 486.6,39.2 487.4,40.7 488.2,40.1 489.0,40.5 489.8,40.7 490.6,39.7 491.4,40.4 492.2,39.8 493.0,39.9 493.8,39.9 494.6,39.9 495.4,40.6 496.2,40.0 497.0,39.9 497.8,39.8 498.6,40.1 499.4,39.5 500.2,39.7 501.0,39.9 501.8,39.7 502.6,39.9 503.4,39.6 504.2,41.1 505.0,40.7 505.8,40.2 506.6,40.0 507.4,41.2 508.2,40.2 509.0,39.9 509.8,40.2 510.6,40.2 511.4,40.8 512.2,40.0 513.0,41.1 513.8,39.5 514.6,40.4 515.4,39.4 516.2,41.0 517.0,39.8 517.8,40.0 518.6,40.5 519.4,40.7 520.2,39.4 521.0,39.8 521.8,39.2 522.6,40.1 523.4,39.9 524.2,39.8 525.0,39.6 525.8,39.8 526.6,39.6 527.4,40.3 528.2,40.8 529.0,38.9 529.8,39.9 530.6,39.8 531.4,40.3 532.2,39.5 533.0,39.9 533.8,39.4 534.6,40.4 535.4,40.1 536.2,39.9 537.0,40.2 537.8,39.9 538.6,39.1 539.4,40.3 540.2,40.2 541.0,39.9 541.8,40.5 542.6,40.7 543.4,39.4 544.2,39.6 545.0,40.9 545.8,40.8 546.6,39.6 547.4,39.4 548.2,39.6 549.0,39.7 549.8,39.1 550.6,40.0 551.4,39.3 552.2,39.3 553.0,40.5 553.8,39.6 554.6,40.0 555.4,40.3 556.2,40.4 557.0,39.8 557.8,40.0 558.6,39.5 559.4,41.0 560.2,40.4 561.0,39.4 561.8,40.0 562.6,40.4 563.4,40.3 564.2,41.0 565.0,40.8 565.8,39.7 566.6,40.0 567.4,39.3 568.2,40.1 569.0,40.1 569.8,41.5 570.6,40.1 571.4,38.8 572.2,39.6 573.0,40.1 573.8,39.3 574.6,39.5 575.4,39.8 576.2,40.2 577.0,39.9 577.8,39.5 578.6,40.4 579.4,39.7 580.2,39.7 581.0,39.2 581.8,39.6 582.6,40.4 583.4,39.1 584.2,40.0 585.0,40.4 585.8,39.8 586.6,40.1 587.4,39.4 588.2,40.7 589.0,40.6 589.8,40.1 590.6,39.0 591.4,39.4 592.2,40.5 593.0,40.9 593.8,40.2 594.6,40.7 595.4,39.7 596.2,39.9 597.0,40.0 597.8,40.2 598.6,39.2 599.4,40.5 600.2,40.7 601.0,39.4 601.8,39.3 602.6,40.2 603.4,39.6 604.2,38.7 605.0,40.4 605.8,40.1 606.6,39.7 607.4,41.2 608.2,40.1 609.0,39.6 609.8,40.1 610.6,39.4 611.4,39.6 612.2,40.2 613.0,39.7 613.8,39.8 614.6,40.9 615.4,40.5 616.2,40.5 617.0,40.3 617.8,40.3 618.6,40.8 619.4,40.0 620.2,41.0 621.0,39.5 621.8,39.9 622.6,39.3 623.4,39.8 624.2,40.3 625.0,40.8 625.8,39.7 626.6,40.0 627.4,39.8 628.2,39.6 629.0,39.4 629.8,40.1 630.6,39.1 631.4,40.1 632.2,40.1 633.0,39.7 633.8,39.5 634.6,39.3 635.4,41.1 636.2,39.3 637.0,40.9 637.8,40.4 638.6,39.9 639.4,39.4 640.2,40.6 641.0,41.0 641.8,39.6 642.6,39.9 643.4,40.7 644.2,40.3 645.0,41.2 645.8,39.8 646.6,40.4 647.4,39.4 648.2,41.3 649.0,39.7 649.8,38.9 650.6,40.0 651.4,40.0 652.2,41.2 653.0,39.9 653.8,40.1 654.6,40.5 655.4,41.0 656.2,40.1 657.0,40.7 657.8,40.4 658.6,40.0 659.4,40.2 660.2,40.2 661.0,39.6 661.8,40.8 662.6,39.4 663.4,40.8 664.2,40.7 665.0,40.1 665.8,39.8 666.6,40.1 667.4,40.4 668.2,40.6 669.0,40.3 669.8,40.7 670.6,39.9 671.4,40.3 672.2,39.3 673.0,40.6 673.8,40.3" fill="none" stroke="#000000" stroke-width="2.4" stroke-linejoin="round" clip-path="url(#cb)"/>
<polyline points="417.0,40.3 417.8,40.7 418.6,40.6 419.4,39.5 420.2,40.3 421.0,39.7 421.8,40.3 422.6,40.6 423.4,39.5 424.2,39.6 425.0,39.6 425.8,40.1 426.6,40.6 427.4,41.5 428.2,41.5 429.0,43.1 429.8,43.1 430.6,44.3 431.4,45.3 432.2,46.1 433.0,46.5 433.8,47.6 434.6,48.8 435.4,50.1 436.2,51.7 437.0,52.3 437.8,54.2 438.6,55.8 439.4,57.5 440.2,59.3 441.0,61.5 441.8,63.2 442.6,65.6 443.4,68.0 444.2,70.9 445.0,72.4 445.8,76.2 446.6,78.7 447.4,81.8 448.2,84.7 449.0,87.4 449.8,90.9 450.6,93.9 451.4,96.9 452.2,98.7 453.0,100.9 453.8,100.0 454.6,98.6 455.4,97.1 456.2,95.6 457.0,93.5 457.8,90.4 458.6,86.4 459.4,82.0 460.2,77.7 461.0,74.2 461.8,70.2 462.6,66.6 463.4,62.8 464.2,58.1 465.0,54.2 465.8,50.6 466.6,47.8 467.4,45.3 468.2,43.6 469.0,41.0 469.8,39.7 470.6,38.6 471.4,38.1 472.2,38.0 473.0,37.0 473.8,36.9 474.6,36.6 475.4,37.2 476.2,37.1 477.0,37.7 477.8,38.1 478.6,38.6 479.4,39.7 480.2,40.8 481.0,40.2 481.8,41.2 482.6,41.3 483.4,41.2 484.2,41.8 485.0,42.1 485.8,42.2 486.6,43.3 487.4,42.4 488.2,43.3 489.0,43.5 489.8,43.4 490.6,43.7 491.4,44.0 492.2,43.7 493.0,43.8 493.8,43.8 494.6,43.0 495.4,43.9 496.2,44.1 497.0,43.6 497.8,43.5 498.6,42.7 499.4,43.0 500.2,42.8 501.0,42.8 501.8,43.1 502.6,42.5 503.4,42.6 504.2,42.0 505.0,42.5 505.8,42.4 506.6,42.1 507.4,42.0 508.2,42.7 509.0,41.7 509.8,41.7 510.6,41.7 511.4,42.2 512.2,42.4 513.0,41.8 513.8,41.4 514.6,41.4 515.4,41.8 516.2,41.1 517.0,41.8 517.8,41.7 518.6,41.3 519.4,41.4 520.2,41.4 521.0,41.6 521.8,40.8 522.6,41.5 523.4,41.0 524.2,40.9 525.0,41.1 525.8,41.0 526.6,40.7 527.4,40.5 528.2,40.7 529.0,41.4 529.8,41.5 530.6,41.1 531.4,41.3 532.2,40.7 533.0,40.9 533.8,41.0 534.6,40.5 535.4,40.5 536.2,40.9 537.0,40.7 537.8,40.5 538.6,40.9 539.4,40.7 540.2,41.1 541.0,40.7 541.8,40.6 542.6,40.8 543.4,40.7 544.2,40.5 545.0,40.6 545.8,40.9 546.6,40.9 547.4,41.1 548.2,40.2 549.0,40.5 549.8,40.5 550.6,40.7 551.4,40.5 552.2,40.5 553.0,40.9 553.8,40.7 554.6,40.3 555.4,41.0 556.2,40.9 557.0,40.4 557.8,40.9 558.6,40.4 559.4,40.9 560.2,40.5 561.0,40.4 561.8,40.5 562.6,40.4 563.4,40.7 564.2,40.6 565.0,40.6 565.8,40.4 566.6,39.5 567.4,40.6 568.2,40.0 569.0,40.7 569.8,40.9 570.6,40.7 571.4,40.5 572.2,40.5 573.0,40.5 573.8,40.4 574.6,40.4 575.4,40.3 576.2,40.9 577.0,40.6 577.8,40.9 578.6,40.5 579.4,40.6 580.2,40.5 581.0,40.7 581.8,40.8 582.6,40.6 583.4,40.4 584.2,40.3 585.0,41.1 585.8,40.5 586.6,40.5 587.4,41.0 588.2,40.9 589.0,40.7 589.8,40.4 590.6,41.3 591.4,40.7 592.2,40.7 593.0,40.5 593.8,40.1 594.6,40.1 595.4,40.7 596.2,40.7 597.0,40.5 597.8,40.2 598.6,40.1 599.4,40.4 600.2,40.1 601.0,40.8 601.8,40.9 602.6,41.4 603.4,40.8 604.2,40.4 605.0,40.3 605.8,39.5 606.6,40.4 607.4,40.5 608.2,40.8 609.0,40.7 609.8,40.7 610.6,40.6 611.4,40.7 612.2,41.0 613.0,40.2 613.8,40.4 614.6,40.1 615.4,41.0 616.2,40.9 617.0,40.7 617.8,40.2 618.6,40.6 619.4,40.4 620.2,40.5 621.0,40.5 621.8,40.7 622.6,40.4 623.4,40.8 624.2,40.6 625.0,40.4 625.8,40.5 626.6,40.4 627.4,40.8 628.2,40.4 629.0,40.6 629.8,40.4 630.6,40.1 631.4,40.8 632.2,40.2 633.0,40.7 633.8,40.6 634.6,40.0 635.4,40.2 636.2,40.4 637.0,40.3 637.8,40.2 638.6,40.7 639.4,40.4 640.2,40.6 641.0,40.4 641.8,40.6 642.6,40.3 643.4,40.5 644.2,40.7 645.0,40.5 645.8,40.4 646.6,40.2 647.4,40.6 648.2,40.6 649.0,40.4 649.8,40.3 650.6,40.7 651.4,41.2 652.2,40.4 653.0,40.6 653.8,40.6 654.6,39.7 655.4,40.5 656.2,40.3 657.0,40.9 657.8,40.4 658.6,40.3 659.4,40.4 660.2,40.6 661.0,40.3 661.8,40.5 662.6,40.1 663.4,40.4 664.2,40.7 665.0,41.1 665.8,40.7 666.6,40.6 667.4,40.9 668.2,40.8 669.0,41.0 669.8,40.8 670.6,40.5 671.4,40.6 672.2,40.6 673.0,40.6 673.8,40.6" fill="none" stroke="#c2d6ef" stroke-width="2.4" stroke-linejoin="round" clip-path="url(#cb)"/>
<polyline points="417.0,-0.2 417.8,2.4 418.6,5.6 419.4,7.3 420.2,9.5 421.0,10.9 421.8,11.7 422.6,13.6 423.4,14.9 424.2,16.0 425.0,17.7 425.8,19.0 426.6,19.3 427.4,21.3 428.2,22.8 429.0,24.8 429.8,27.7 430.6,30.6 431.4,34.2 432.2,37.8 433.0,41.4 433.8,45.4 434.6,49.0 435.4,53.4 436.2,58.5 437.0,63.4 437.8,69.0 438.6,73.9 439.4,79.8 440.2,85.4 441.0,91.2 441.8,96.8 442.6,103.4 443.4,109.8 444.2,116.8 445.0,124.0 445.8,131.2 446.6,137.5 447.4,144.0 448.2,149.1 449.0,154.1 449.8,158.8 450.6,163.5 451.4,167.9 452.2,172.0 453.0,175.8 453.8,180.4 454.6,184.5 455.4,187.5 456.2,187.0 457.0,184.6 457.8,182.7 458.6,178.9 459.4,174.9 460.2,170.8 461.0,165.2 461.8,160.1 462.6,153.5 463.4,147.1 464.2,142.7 465.0,137.6 465.8,133.6 466.6,128.2 467.4,123.8 468.2,120.8 469.0,117.4 469.8,114.2 470.6,110.5 471.4,107.9 472.2,104.7 473.0,100.1 473.8,97.6 474.6,94.1 475.4,92.6 476.2,89.9 477.0,87.9 477.8,86.6 478.6,84.8 479.4,83.0 480.2,81.8 481.0,79.9 481.8,78.1 482.6,77.8 483.4,75.7 484.2,74.4 485.0,73.6 485.8,72.0 486.6,71.2 487.4,70.5 488.2,69.6 489.0,68.9 489.8,68.4 490.6,67.1 491.4,66.6 492.2,65.9 493.0,64.7 493.8,64.4 494.6,63.4 495.4,63.3 496.2,62.6 497.0,61.9 497.8,60.9 498.6,60.9 499.4,60.2 500.2,60.2 501.0,59.5 501.8,58.9 502.6,59.0 503.4,58.6 504.2,57.9 505.0,58.1 505.8,57.3 506.6,57.0 507.4,56.8 508.2,56.2 509.0,56.0 509.8,55.8 510.6,56.1 511.4,55.8 512.2,55.0 513.0,55.3 513.8,54.5 514.6,54.3 515.4,54.2 516.2,53.7 517.0,54.1 517.8,53.2 518.6,52.4 519.4,52.9 520.2,52.1 521.0,51.9 521.8,50.8 522.6,51.8 523.4,51.5 524.2,51.3 525.0,51.1 525.8,51.1 526.6,50.4 527.4,50.5 528.2,49.8 529.0,49.8 529.8,50.1 530.6,49.7 531.4,49.0 532.2,49.4 533.0,49.1 533.8,48.8 534.6,49.1 535.4,48.7 536.2,48.2 537.0,48.2 537.8,49.0 538.6,47.9 539.4,48.3 540.2,48.3 541.0,48.2 541.8,47.6 542.6,47.8 543.4,47.8 544.2,47.9 545.0,47.4 545.8,47.1 546.6,47.7 547.4,47.6 548.2,47.3 549.0,47.0 549.8,47.2 550.6,47.0 551.4,47.1 552.2,46.4 553.0,46.8 553.8,46.6 554.6,46.2 555.4,46.5 556.2,46.4 557.0,46.2 557.8,46.4 558.6,45.7 559.4,46.1 560.2,46.1 561.0,46.0 561.8,46.2 562.6,45.5 563.4,45.3 564.2,45.8 565.0,45.8 565.8,46.2 566.6,45.7 567.4,45.2 568.2,45.6 569.0,45.1 569.8,44.9 570.6,46.1 571.4,45.3 572.2,45.4 573.0,45.3 573.8,45.6 574.6,45.1 575.4,45.4 576.2,44.7 577.0,44.5 577.8,45.3 578.6,45.3 579.4,45.0 580.2,44.9 581.0,44.8 581.8,44.5 582.6,45.2 583.4,44.9 584.2,44.8 585.0,44.7 585.8,44.9 586.6,44.7 587.4,44.7 588.2,44.1 589.0,44.6 589.8,45.1 590.6,44.3 591.4,44.3 592.2,44.6 593.0,44.6 593.8,44.5 594.6,43.8 595.4,44.4 596.2,43.9 597.0,43.9 597.8,44.3 598.6,44.1 599.4,44.4 600.2,45.0 601.0,44.3 601.8,44.3 602.6,43.8 603.4,43.8 604.2,43.7 605.0,43.8 605.8,43.6 606.6,43.7 607.4,43.8 608.2,43.6 609.0,43.4 609.8,43.4 610.6,43.9 611.4,43.8 612.2,44.0 613.0,44.0 613.8,43.6 614.6,43.9 615.4,43.2 616.2,44.3 617.0,44.0 617.8,43.5 618.6,43.2 619.4,43.6 620.2,42.9 621.0,43.2 621.8,43.7 622.6,43.4 623.4,43.2 624.2,43.7 625.0,43.0 625.8,43.4 626.6,43.1 627.4,43.0 628.2,43.4 629.0,42.9 629.8,43.8 630.6,43.0 631.4,43.7 632.2,42.8 633.0,43.3 633.8,42.7 634.6,42.6 635.4,43.1 636.2,43.2 637.0,42.6 637.8,43.3 638.6,42.7 639.4,42.9 640.2,43.0 641.0,43.0 641.8,42.3 642.6,43.3 643.4,43.0 644.2,42.6 645.0,42.4 645.8,42.2 646.6,42.3 647.4,42.8 648.2,42.5 649.0,42.3 649.8,42.4 650.6,43.1 651.4,42.5 652.2,42.4 653.0,42.9 653.8,42.6 654.6,42.5 655.4,42.3 656.2,42.0 657.0,42.1 657.8,42.2 658.6,42.3 659.4,42.4 660.2,42.5 661.0,42.4 661.8,42.3 662.6,42.0 663.4,41.6 664.2,42.1 665.0,41.9 665.8,42.0 666.6,42.1 667.4,41.8 668.2,41.8 669.0,42.1 669.8,42.1 670.6,41.9 671.4,42.2 672.2,41.9 673.0,41.7 673.8,42.0" fill="none" stroke="#3b4fa6" stroke-width="2.4" stroke-linejoin="round" clip-path="url(#cb)"/>
<polyline points="419.0,0.6 419.8,1.5 420.6,3.6 421.4,5.2 422.2,6.8 423.0,7.5 423.8,9.7 424.6,10.3 425.4,11.5 426.2,12.8 427.0,14.5 427.8,15.8 428.6,17.3 429.4,19.4 430.2,20.7 431.0,22.7 431.8,25.8 432.6,28.8 433.4,32.1 434.2,34.9 435.0,39.2 435.8,42.9 436.6,47.5 437.4,51.0 438.2,56.1 439.0,60.8 439.8,65.6 440.6,71.4 441.4,77.5 442.2,82.7 443.0,88.7 443.8,95.3 444.6,101.3 445.4,107.4 446.2,113.1 447.0,119.4 447.8,125.7 448.6,130.7 449.4,135.8 450.2,141.0 451.0,145.7 451.8,148.8 452.6,151.6 453.4,154.9 454.2,157.9 455.0,160.6 455.8,162.5 456.6,163.0 457.4,162.1 458.2,160.8 459.0,158.7 459.8,157.1 460.6,154.7 461.4,153.3 462.2,150.1 463.0,146.6 463.8,143.3 464.6,140.1 465.4,136.0 466.2,132.6 467.0,128.7 467.8,125.3 468.6,120.5 469.4,116.0 470.2,111.5 471.0,107.8 471.8,104.7 472.6,101.4 473.4,98.7 474.2,95.1 475.0,92.6 475.8,89.6 476.6,87.4 477.4,85.0 478.2,83.5 479.0,82.5 479.8,81.2 480.6,79.3 481.4,77.9 482.2,76.0 483.0,74.5 483.8,73.1 484.6,72.4 485.4,71.2 486.2,70.1 487.0,69.1 487.8,68.5 488.6,67.6 489.4,66.4 490.2,66.4 491.0,65.2 491.8,64.4 492.6,64.2 493.4,63.4 494.2,62.4 495.0,62.0 495.8,61.0 496.6,60.6 497.4,59.6 498.2,60.1 499.0,58.7 499.8,59.1 500.6,58.2 501.4,57.8 502.2,57.6 503.0,57.4 503.8,57.2 504.6,57.2 505.4,56.5 506.2,56.3 507.0,55.6 507.8,55.7 508.6,55.2 509.4,54.8 510.2,54.6 511.0,54.3 511.8,54.1 512.6,53.9 513.4,53.4 514.2,53.0 515.0,53.2 515.8,52.2 516.6,52.2 517.4,52.6 518.2,51.1 519.0,51.4 519.8,51.5 520.6,50.6 521.4,51.6 522.2,49.8 523.0,50.8 523.8,50.6 524.6,50.2 525.4,49.6 526.2,49.6 527.0,49.0 527.8,49.4 528.6,48.6 529.4,48.7 530.2,49.0 531.0,48.2 531.8,48.3 532.6,48.3 533.4,47.7 534.2,48.4 535.0,48.0 535.8,47.3 536.6,47.6 537.4,47.3 538.2,47.2 539.0,47.4 539.8,47.0 540.6,47.4 541.4,46.8 542.2,47.2 543.0,46.8 543.8,47.0 544.6,46.5 545.4,46.4 546.2,46.2 547.0,46.6 547.8,46.6 548.6,46.9 549.4,46.6 550.2,46.2 551.0,46.0 551.8,46.1 552.6,45.9 553.4,46.2 554.2,46.0 555.0,45.4 555.8,45.4 556.6,45.9 557.4,45.5 558.2,45.3 559.0,45.7 559.8,45.1 560.6,45.1 561.4,45.0 562.2,44.5 563.0,45.3 563.8,44.6 564.6,44.7 565.4,44.6 566.2,45.0 567.0,44.7 567.8,44.7 568.6,44.2 569.4,44.6 570.2,44.1 571.0,44.6 571.8,44.6 572.6,44.5 573.4,45.1 574.2,44.6 575.0,44.6 575.8,44.4 576.6,44.3 577.4,44.6 578.2,44.6 579.0,43.8 579.8,44.5 580.6,44.3 581.4,44.4 582.2,44.2 583.0,43.7 583.8,43.7 584.6,44.6 585.4,44.1 586.2,43.5 587.0,44.0 587.8,43.8 588.6,43.3 589.4,43.2 590.2,43.3 591.0,43.9 591.8,43.8 592.6,43.7 593.4,43.8 594.2,43.9 595.0,43.1 595.8,43.6 596.6,43.4 597.4,43.3 598.2,43.4 599.0,43.5 599.8,43.5 600.6,43.1 601.4,43.4 602.2,44.1 603.0,43.2 603.8,42.9 604.6,43.5 605.4,43.6 606.2,43.5 607.0,43.0 607.8,43.6 608.6,43.1 609.4,43.0 610.2,43.1 611.0,43.2 611.8,43.4 612.6,43.4 613.4,43.2 614.2,43.4 615.0,43.2 615.8,43.4 616.6,42.7 617.4,42.6 618.2,43.3 619.0,42.6 619.8,42.9 620.6,43.0 621.4,42.8 622.2,42.8 623.0,43.3 623.8,42.1 624.6,43.1 625.4,43.5 626.2,42.8 627.0,42.8 627.8,43.0 628.6,43.3 629.4,42.4 630.2,42.7 631.0,42.6 631.8,42.8 632.6,42.7 633.4,42.8 634.2,42.5 635.0,42.6 635.8,42.3 636.6,42.3 637.4,42.4 638.2,42.4 639.0,42.1 639.8,42.9 640.6,42.4 641.4,42.0 642.2,42.7 643.0,42.1 643.8,42.5 644.6,42.3 645.4,42.3 646.2,42.3 647.0,42.0 647.8,42.2 648.6,42.8 649.4,41.5 650.2,42.1 651.0,42.2 651.8,41.8 652.6,41.6 653.4,42.7 654.2,41.9 655.0,42.6 655.8,42.1 656.6,42.0 657.4,42.1 658.2,42.1 659.0,42.2 659.8,42.0 660.6,41.9 661.4,41.9 662.2,42.2 663.0,42.0 663.8,41.4 664.6,41.5 665.4,41.8 666.2,41.5 667.0,41.5 667.8,41.3 668.6,41.5 669.4,41.7 670.2,41.9 671.0,41.5 671.8,42.1 672.6,41.5 673.4,42.4 674.2,41.8" fill="none" stroke="#bf50b0" stroke-width="2.4" stroke-linejoin="round" clip-path="url(#cb)"/>
<polyline points="419.8,16.9 420.6,16.7 421.4,16.0 422.2,16.9 423.0,17.1 423.8,17.7 424.6,16.9 425.4,18.2 426.2,17.8 427.0,18.6 427.8,18.4 428.6,20.0 429.4,20.9 430.2,22.4 431.0,23.6 431.8,25.3 432.6,28.8 433.4,31.2 434.2,32.9 435.0,34.4 435.8,35.8 436.6,37.0 437.4,38.7 438.2,41.3 439.0,45.2 439.8,48.2 440.6,51.2 441.4,54.1 442.2,57.4 443.0,60.6 443.8,63.8 444.6,67.2 445.4,71.9 446.2,75.3 447.0,78.9 447.8,82.3 448.6,86.1 449.4,90.1 450.2,93.5 451.0,96.4 451.8,99.5 452.6,102.3 453.4,104.7 454.2,108.0 455.0,110.1 455.8,113.3 456.6,114.7 457.4,116.1 458.2,116.2 459.0,114.8 459.8,112.9 460.6,111.2 461.4,109.5 462.2,107.7 463.0,105.5 463.8,103.5 464.6,100.9 465.4,98.1 466.2,95.5 467.0,93.1 467.8,91.2 468.6,89.3 469.4,87.0 470.2,85.2 471.0,83.1 471.8,80.9 472.6,79.3 473.4,78.2 474.2,76.5 475.0,75.3 475.8,73.3 476.6,72.1 477.4,70.9 478.2,69.5 479.0,67.8 479.8,66.8 480.6,65.8 481.4,64.4 482.2,63.8 483.0,63.0 483.8,61.7 484.6,61.6 485.4,60.3 486.2,59.6 487.0,59.0 487.8,58.2 488.6,58.0 489.4,57.3 490.2,57.2 491.0,56.3 491.8,55.8 492.6,55.1 493.4,54.3 494.2,54.2 495.0,53.5 495.8,53.7 496.6,53.0 497.4,53.1 498.2,52.5 499.0,52.2 499.8,51.7 500.6,51.4 501.4,51.3 502.2,51.1 503.0,50.3 503.8,50.4 504.6,50.8 505.4,49.7 506.2,49.4 507.0,49.0 507.8,48.6 508.6,49.1 509.4,48.6 510.2,48.4 511.0,48.7 511.8,48.7 512.6,47.5 513.4,47.9 514.2,47.6 515.0,47.3 515.8,47.2 516.6,46.9 517.4,47.2 518.2,46.8 519.0,46.5 519.8,46.7 520.6,46.4 521.4,46.2 522.2,46.0 523.0,46.4 523.8,45.9 524.6,45.6 525.4,45.3 526.2,45.3 527.0,45.0 527.8,45.3 528.6,45.2 529.4,44.4 530.2,45.0 531.0,45.1 531.8,44.8 532.6,44.4 533.4,45.0 534.2,44.3 535.0,44.1 535.8,44.1 536.6,44.3 537.4,44.6 538.2,44.6 539.0,44.2 539.8,43.7 540.6,43.9 541.4,43.7 542.2,43.9 543.0,43.4 543.8,43.9 544.6,44.0 545.4,43.7 546.2,43.9 547.0,43.4 547.8,43.2 548.6,43.4 549.4,43.9 550.2,43.8 551.0,43.3 551.8,43.8 552.6,43.3 553.4,43.8 554.2,43.5 555.0,43.2 555.8,43.5 556.6,43.0 557.4,42.9 558.2,42.7 559.0,43.2 559.8,43.1 560.6,43.1 561.4,42.9 562.2,43.5 563.0,42.9 563.8,42.8 564.6,43.3 565.4,43.4 566.2,43.0 567.0,42.4 567.8,42.7 568.6,43.0 569.4,42.8 570.2,43.3 571.0,42.4 571.8,43.0 572.6,42.5 573.4,43.1 574.2,42.7 575.0,43.0 575.8,42.5 576.6,42.2 577.4,42.3 578.2,42.4 579.0,42.3 579.8,42.9 580.6,42.9 581.4,42.6 582.2,42.2 583.0,42.4 583.8,42.2 584.6,42.9 585.4,42.5 586.2,42.5 587.0,42.2 587.8,41.7 588.6,42.1 589.4,42.0 590.2,42.4 591.0,42.3 591.8,42.0 592.6,42.1 593.4,42.7 594.2,41.9 595.0,41.9 595.8,42.1 596.6,41.9 597.4,42.0 598.2,42.2 599.0,42.6 599.8,41.5 600.6,42.0 601.4,42.0 602.2,42.0 603.0,41.9 603.8,41.8 604.6,42.2 605.4,41.8 606.2,41.8 607.0,41.9 607.8,41.9 608.6,41.8 609.4,42.1 610.2,41.8 611.0,41.8 611.8,41.7 612.6,41.4 613.4,41.5 614.2,41.4 615.0,41.7 615.8,41.5 616.6,41.3 617.4,41.7 618.2,41.8 619.0,41.1 619.8,42.1 620.6,41.6 621.4,41.5 622.2,41.9 623.0,41.5 623.8,41.3 624.6,42.2 625.4,41.2 626.2,41.4 627.0,41.7 627.8,41.1 628.6,41.4 629.4,41.5 630.2,42.1 631.0,41.1 631.8,41.4 632.6,41.6 633.4,41.4 634.2,41.0 635.0,41.4 635.8,41.3 636.6,41.4 637.4,41.6 638.2,41.6 639.0,41.4 639.8,41.3 640.6,40.9 641.4,41.2 642.2,41.3 643.0,41.1 643.8,41.2 644.6,40.9 645.4,41.6 646.2,41.8 647.0,41.0 647.8,41.3 648.6,41.1 649.4,41.5 650.2,41.2 651.0,41.1 651.8,41.0 652.6,41.1 653.4,40.8 654.2,41.3 655.0,40.9 655.8,41.2 656.6,41.1 657.4,41.4 658.2,41.0 659.0,41.4 659.8,40.8 660.6,41.2 661.4,41.0 662.2,41.1 663.0,41.0 663.8,41.3 664.6,40.4 665.4,41.1 666.2,40.6 667.0,41.4 667.8,40.4 668.6,40.7 669.4,40.5 670.2,41.5 671.0,40.6 671.8,41.0 672.6,40.8 673.4,40.5 674.2,40.9" fill="none" stroke="#137a6d" stroke-width="2.4" stroke-linejoin="round" clip-path="url(#cb)"/>
<polyline points="418.0,15.2 418.8,20.2 419.6,22.4 420.4,22.8 421.2,23.4 422.0,23.6 422.8,24.1 423.6,24.8 424.4,24.4 425.2,24.5 426.0,24.3 426.8,24.4 427.6,25.3 428.4,25.0 429.2,25.7 430.0,26.8 430.8,27.7 431.6,29.4 432.4,29.2 433.2,31.1 434.0,32.5 434.8,33.4 435.6,35.1 436.4,37.0 437.2,38.9 438.0,39.7 438.8,41.2 439.6,43.7 440.4,45.7 441.2,47.0 442.0,48.2 442.8,51.2 443.6,52.5 444.4,54.8 445.2,56.3 446.0,58.1 446.8,60.0 447.6,62.5 448.4,64.5 449.2,65.5 450.0,68.0 450.8,71.1 451.6,72.7 452.4,74.6 453.2,77.1 454.0,78.9 454.8,80.9 455.6,82.9 456.4,84.7 457.2,86.0 458.0,86.7 458.8,86.2 459.6,85.8 460.4,85.0 461.2,84.4 462.0,83.1 462.8,81.9 463.6,81.1 464.4,80.1 465.2,79.2 466.0,77.9 466.8,77.1 467.6,75.8 468.4,74.2 469.2,72.9 470.0,72.3 470.8,71.0 471.6,69.6 472.4,67.9 473.2,66.5 474.0,65.9 474.8,64.8 475.6,63.6 476.4,61.9 477.2,61.6 478.0,60.2 478.8,59.5 479.6,58.6 480.4,57.4 481.2,56.7 482.0,55.5 482.8,55.1 483.6,54.2 484.4,54.3 485.2,53.6 486.0,53.3 486.8,52.7 487.6,51.9 488.4,51.7 489.2,51.0 490.0,50.8 490.8,50.3 491.6,49.5 492.4,49.4 493.2,49.0 494.0,48.5 494.8,48.5 495.6,48.5 496.4,47.5 497.2,47.3 498.0,46.4 498.8,46.9 499.6,46.6 500.4,45.9 501.2,46.4 502.0,46.3 502.8,45.8 503.6,45.7 504.4,45.4 505.2,45.7 506.0,44.9 506.8,45.1 507.6,45.6 508.4,44.9 509.2,44.9 510.0,44.6 510.8,44.2 511.6,44.4 512.4,44.4 513.2,43.9 514.0,44.2 514.8,44.4 515.6,44.2 516.4,43.3 517.2,43.4 518.0,43.2 518.8,43.9 519.6,43.7 520.4,43.7 521.2,43.1 522.0,43.0 522.8,43.3 523.6,43.3 524.4,42.9 525.2,43.2 526.0,43.3 526.8,43.1 527.6,42.7 528.4,42.3 529.2,42.8 530.0,42.9 530.8,42.7 531.6,42.6 532.4,42.5 533.2,42.9 534.0,42.6 534.8,42.6 535.6,42.2 536.4,42.3 537.2,42.5 538.0,42.1 538.8,42.0 539.6,42.2 540.4,42.6 541.2,42.3 542.0,42.6 542.8,42.1 543.6,42.0 544.4,41.7 545.2,41.9 546.0,42.5 546.8,42.1 547.6,42.2 548.4,42.2 549.2,41.9 550.0,41.8 550.8,41.9 551.6,42.0 552.4,41.9 553.2,41.9 554.0,41.8 554.8,41.5 555.6,41.6 556.4,41.4 557.2,42.0 558.0,41.0 558.8,41.6 559.6,42.3 560.4,41.5 561.2,41.2 562.0,41.5 562.8,41.9 563.6,41.5 564.4,41.7 565.2,41.5 566.0,41.4 566.8,42.4 567.6,41.5 568.4,41.3 569.2,41.3 570.0,41.5 570.8,41.5 571.6,41.6 572.4,41.4 573.2,40.9 574.0,41.5 574.8,41.2 575.6,41.2 576.4,40.9 577.2,41.1 578.0,41.1 578.8,41.3 579.6,40.8 580.4,41.3 581.2,41.3 582.0,40.9 582.8,41.0 583.6,41.0 584.4,41.5 585.2,40.4 586.0,41.1 586.8,40.7 587.6,41.0 588.4,41.4 589.2,41.0 590.0,41.2 590.8,40.9 591.6,41.7 592.4,41.4 593.2,41.4 594.0,40.7 594.8,40.7 595.6,41.4 596.4,41.0 597.2,41.0 598.0,41.1 598.8,40.7 599.6,41.3 600.4,41.0 601.2,41.2 602.0,40.8 602.8,41.1 603.6,40.8 604.4,41.3 605.2,41.3 606.0,41.2 606.8,41.1 607.6,41.1 608.4,40.1 609.2,41.2 610.0,40.8 610.8,40.9 611.6,40.8 612.4,40.5 613.2,40.7 614.0,41.1 614.8,41.3 615.6,40.7 616.4,40.6 617.2,41.3 618.0,40.6 618.8,41.5 619.6,40.8 620.4,40.6 621.2,41.1 622.0,41.3 622.8,40.4 623.6,41.3 624.4,40.7 625.2,41.2 626.0,40.7 626.8,40.3 627.6,40.9 628.4,41.0 629.2,41.4 630.0,41.3 630.8,41.0 631.6,40.7 632.4,40.6 633.2,40.6 634.0,40.5 634.8,40.6 635.6,40.0 636.4,40.8 637.2,40.7 638.0,41.5 638.8,40.9 639.6,40.5 640.4,40.9 641.2,40.3 642.0,40.5 642.8,40.1 643.6,41.1 644.4,40.8 645.2,40.3 646.0,40.6 646.8,40.9 647.6,40.8 648.4,40.8 649.2,40.4 650.0,40.5 650.8,40.7 651.6,40.9 652.4,40.4 653.2,40.3 654.0,41.0 654.8,40.3 655.6,40.9 656.4,40.7 657.2,40.9 658.0,41.1 658.8,40.8 659.6,40.8 660.4,40.3 661.2,40.4 662.0,40.8 662.8,41.1 663.6,41.0 664.4,41.3 665.2,40.7 666.0,40.7 666.8,40.9 667.6,40.6 668.4,40.6 669.2,40.3 670.0,40.9 670.8,40.3 671.6,40.8 672.4,40.2 673.2,40.9 674.0,40.3" fill="none" stroke="#f4891a" stroke-width="2.4" stroke-linejoin="round" clip-path="url(#cb)"/>
<polyline points="420.5,0.3 421.3,4.7 422.1,9.3 422.9,13.4 423.7,17.6 424.5,24.1 425.3,24.7 426.1,24.4 426.9,25.5 427.7,25.8 428.5,25.6 429.3,26.7 430.1,27.0 430.9,27.8 431.7,29.0 432.5,29.7 433.3,31.7 434.1,31.3 434.9,33.1 435.7,34.2 436.5,34.2 437.3,35.4 438.1,37.2 438.9,37.9 439.7,39.3 440.5,40.6 441.3,41.2 442.1,42.2 442.9,42.9 443.7,45.3 444.5,46.4 445.3,48.5 446.1,50.1 446.9,51.3 447.7,54.0 448.5,55.4 449.3,56.9 450.1,57.7 450.9,59.5 451.7,60.9 452.5,62.3 453.3,63.3 454.1,65.0 454.9,66.0 455.7,67.2 456.5,67.9 457.3,69.3 458.1,69.4 458.9,68.4 459.7,69.0 460.5,68.9 461.3,68.8 462.1,67.9 462.9,67.4 463.7,66.8 464.5,66.7 465.3,65.8 466.1,65.1 466.9,64.4 467.7,64.2 468.5,63.1 469.3,62.0 470.1,62.1 470.9,60.9 471.7,60.5 472.5,59.7 473.3,59.1 474.1,58.2 474.9,56.8 475.7,56.1 476.5,54.9 477.3,55.2 478.1,54.0 478.9,53.6 479.7,52.2 480.5,50.8 481.3,51.3 482.1,50.1 482.9,49.5 483.7,48.9 484.5,48.7 485.3,48.3 486.1,47.2 486.9,47.7 487.7,46.9 488.5,46.6 489.3,47.0 490.1,46.5 490.9,45.8 491.7,45.0 492.5,45.4 493.3,45.3 494.1,44.9 494.9,44.3 495.7,44.3 496.5,44.0 497.3,44.3 498.1,44.4 498.9,44.3 499.7,43.6 500.5,43.8 501.3,43.8 502.1,43.3 502.9,43.3 503.7,44.0 504.5,43.2 505.3,43.3 506.1,42.8 506.9,42.9 507.7,42.1 508.5,42.6 509.3,43.0 510.1,43.2 510.9,42.8 511.7,42.6 512.5,42.3 513.3,42.0 514.1,42.1 514.9,42.3 515.7,41.7 516.5,42.3 517.3,41.5 518.1,41.2 518.9,41.4 519.7,41.2 520.5,41.2 521.3,42.1 522.1,41.6 522.9,41.7 523.7,42.0 524.5,42.0 525.3,41.4 526.1,42.0 526.9,41.6 527.7,41.5 528.5,41.6 529.3,40.9 530.1,41.1 530.9,41.3 531.7,41.5 532.5,41.2 533.3,41.2 534.1,41.6 534.9,41.7 535.7,41.5 536.5,41.6 537.3,41.0 538.1,41.0 538.9,41.2 539.7,41.0 540.5,40.9 541.3,41.6 542.1,41.0 542.9,40.7 543.7,41.2 544.5,41.6 545.3,41.0 546.1,41.4 546.9,40.8 547.7,40.7 548.5,40.6 549.3,40.8 550.1,41.5 550.9,40.4 551.7,41.4 552.5,40.4 553.3,40.7 554.1,41.1 554.9,41.0 555.7,40.8 556.5,40.2 557.3,40.9 558.1,40.4 558.9,41.6 559.7,40.6 560.5,40.8 561.3,40.3 562.1,40.5 562.9,40.2 563.7,41.0 564.5,40.5 565.3,40.8 566.1,40.4 566.9,40.4 567.7,41.1 568.5,40.3 569.3,40.0 570.1,40.7 570.9,40.2 571.7,40.4 572.5,40.9 573.3,40.3 574.1,40.9 574.9,40.3 575.7,41.1 576.5,41.0 577.3,40.4 578.1,40.5 578.9,40.3 579.7,40.6 580.5,40.9 581.3,40.0 582.1,40.9 582.9,40.1 583.7,40.2 584.5,39.9 585.3,41.3 586.1,40.5 586.9,40.6 587.7,40.3 588.5,40.9 589.3,39.8 590.1,40.5 590.9,41.3 591.7,40.4 592.5,40.5 593.3,40.7 594.1,40.2 594.9,40.5 595.7,40.8 596.5,40.5 597.3,40.6 598.1,40.3 598.9,40.6 599.7,40.5 600.5,41.0 601.3,40.7 602.1,40.4 602.9,39.6 603.7,40.7 604.5,40.7 605.3,40.1 606.1,39.7 606.9,40.0 607.7,40.7 608.5,40.0 609.3,40.3 610.1,40.5 610.9,40.8 611.7,40.4 612.5,40.4 613.3,40.2 614.1,41.0 614.9,40.8 615.7,40.4 616.5,39.9 617.3,40.1 618.1,40.6 618.9,40.1 619.7,40.7 620.5,40.5 621.3,40.5 622.1,40.6 622.9,40.5 623.7,40.1 624.5,40.3 625.3,41.2 626.1,39.9 626.9,40.2 627.7,40.7 628.5,40.3 629.3,40.1 630.1,39.9 630.9,40.5 631.7,40.7 632.5,40.8 633.3,40.4 634.1,40.7 634.9,40.0 635.7,40.4 636.5,40.1 637.3,40.4 638.1,40.6 638.9,40.7 639.7,40.0 640.5,40.8 641.3,40.2 642.1,40.0 642.9,40.3 643.7,39.8 644.5,40.3 645.3,40.4 646.1,40.3 646.9,40.5 647.7,40.2 648.5,40.3 649.3,39.8 650.1,40.3 650.9,40.0 651.7,40.2 652.5,40.3 653.3,40.4 654.1,39.7 654.9,39.8 655.7,40.2 656.5,40.5 657.3,40.4 658.1,40.6 658.9,40.8 659.7,40.5 660.5,40.3 661.3,39.9 662.1,40.0 662.9,40.1 663.7,40.4 664.5,40.4 665.3,40.3 666.1,40.2 666.9,40.5 667.7,40.4 668.5,40.4 669.3,40.4 670.1,40.1 670.9,39.9 671.7,40.5 672.5,40.4 673.3,40.2 674.1,40.2" fill="none" stroke="#b2174b" stroke-width="2.4" stroke-linejoin="round" clip-path="url(#cb)"/>
<line x1="419.00" y1="202.6" x2="419.00" y2="206.6" stroke="#111" stroke-width="1.4"/>
<text x="419.0" y="218.6" font-size="12" text-anchor="middle" font-family="Liberation Sans, sans-serif" font-weight="bold" stroke="#000" stroke-width="0.22" >350</text>
<line x1="461.28" y1="202.6" x2="461.28" y2="205.2" stroke="#111" stroke-width="1.4"/>
<line x1="503.57" y1="202.6" x2="503.57" y2="206.6" stroke="#111" stroke-width="1.4"/>
<text x="503.6" y="218.6" font-size="12" text-anchor="middle" font-family="Liberation Sans, sans-serif" font-weight="bold" stroke="#000" stroke-width="0.22" >400</text>
<line x1="545.85" y1="202.6" x2="545.85" y2="205.2" stroke="#111" stroke-width="1.4"/>
<line x1="588.13" y1="202.6" x2="588.13" y2="206.6" stroke="#111" stroke-width="1.4"/>
<text x="588.1" y="218.6" font-size="12" text-anchor="middle" font-family="Liberation Sans, sans-serif" font-weight="bold" stroke="#000" stroke-width="0.22" >450</text>
<line x1="630.42" y1="202.6" x2="630.42" y2="205.2" stroke="#111" stroke-width="1.4"/>
<line x1="672.70" y1="202.6" x2="672.70" y2="206.6" stroke="#111" stroke-width="1.4"/>
<text x="672.7" y="218.6" font-size="12" text-anchor="middle" font-family="Liberation Sans, sans-serif" font-weight="bold" stroke="#000" stroke-width="0.22" >500</text>
<line x1="419.0" y1="7.35" x2="416.4" y2="7.35" stroke="#111" stroke-width="1.4"/>
<line x1="419.0" y1="39.89" x2="415.0" y2="39.89" stroke="#111" stroke-width="1.4"/>
<text x="411.8" y="44.2" font-size="12" text-anchor="end" font-family="Liberation Sans, sans-serif" font-weight="bold" stroke="#000" stroke-width="0.22" >0.00</text>
<line x1="419.0" y1="72.43" x2="416.4" y2="72.43" stroke="#111" stroke-width="1.4"/>
<line x1="419.0" y1="104.97" x2="415.0" y2="104.97" stroke="#111" stroke-width="1.4"/>
<text x="411.8" y="109.3" font-size="12" text-anchor="end" font-family="Liberation Sans, sans-serif" font-weight="bold" stroke="#000" stroke-width="0.22" >-0.01</text>
<line x1="419.0" y1="137.52" x2="416.4" y2="137.52" stroke="#111" stroke-width="1.4"/>
<line x1="419.0" y1="170.06" x2="415.0" y2="170.06" stroke="#111" stroke-width="1.4"/>
<text x="411.8" y="174.4" font-size="12" text-anchor="end" font-family="Liberation Sans, sans-serif" font-weight="bold" stroke="#000" stroke-width="0.22" >-0.02</text>
<line x1="419.0" y1="202.60" x2="416.4" y2="202.60" stroke="#111" stroke-width="1.4"/>
<text x="363.9" y="28.7" font-size="22" text-anchor="start" font-family="Liberation Sans, sans-serif" font-weight="bold" stroke="#000" stroke-width="0.22" >b</text>
<text x="645.6" y="27.6" font-size="15.2" text-anchor="start" font-family="Liberation Sans, sans-serif" font-weight="bold" stroke="#000" stroke-width="0.22" >D</text>
<text x="548.0" y="236.7" font-size="15.9" text-anchor="middle" font-family="Liberation Sans, sans-serif" font-weight="bold" stroke="#000" stroke-width="0.22" >Wavelength (nm)</text>
<path d="M375.30,118.50 L365.10,123.10 L375.30,127.60" fill="none" stroke="#000" stroke-width="1.2" stroke-linejoin="round"/><line x1="375.10" y1="118.20" x2="375.10" y2="127.90" stroke="#000" stroke-width="1.9"/><text x="0" y="0" font-size="15" text-anchor="start" font-family="Liberation Sans, sans-serif" font-weight="bold" stroke="#000" stroke-width="0.22" transform="translate(374.60,117.60) rotate(-90)">A</text>
<line x1="582" y1="86.3" x2="611.2" y2="86.3" stroke="#000000" stroke-width="2.3"/>
<text x="614.3" y="89.8" font-size="12.3" text-anchor="start" font-family="Liberation Sans, sans-serif" font-weight="bold" stroke="#000" stroke-width="0.22" >-0.5 ps</text>
<line x1="582" y1="101.6" x2="611.2" y2="101.6" stroke="#c2d6ef" stroke-width="2.3"/>
<text x="614.3" y="105.1" font-size="12.3" text-anchor="start" font-family="Liberation Sans, sans-serif" font-weight="bold" stroke="#000" stroke-width="0.22" >0.1 ps</text>
<line x1="582" y1="116.8" x2="611.2" y2="116.8" stroke="#3b4fa6" stroke-width="2.3"/>
<text x="614.3" y="120.5" font-size="12.3" text-anchor="start" font-family="Liberation Sans, sans-serif" font-weight="bold" stroke="#000" stroke-width="0.22" >1 ps</text>
<line x1="582" y1="132.1" x2="611.2" y2="132.1" stroke="#bf50b0" stroke-width="2.3"/>
<text x="614.3" y="135.8" font-size="12.3" text-anchor="start" font-family="Liberation Sans, sans-serif" font-weight="bold" stroke="#000" stroke-width="0.22" >10 ps</text>
<line x1="582" y1="147.4" x2="611.2" y2="147.4" stroke="#137a6d" stroke-width="2.3"/>
<text x="614.3" y="151.2" font-size="12.3" text-anchor="start" font-family="Liberation Sans, sans-serif" font-weight="bold" stroke="#000" stroke-width="0.22" >388 ps</text>
<line x1="582" y1="162.6" x2="611.2" y2="162.6" stroke="#f4891a" stroke-width="2.3"/>
<text x="614.3" y="166.6" font-size="12.3" text-anchor="start" font-family="Liberation Sans, sans-serif" font-weight="bold" stroke="#000" stroke-width="0.22" >2188 ps</text>
<line x1="582" y1="177.9" x2="611.2" y2="177.9" stroke="#b2174b" stroke-width="2.3"/>
<text x="614.3" y="181.9" font-size="12.3" text-anchor="start" font-family="Liberation Sans, sans-serif" font-weight="bold" stroke="#000" stroke-width="0.22" >7288 ps</text>
<rect x="80.0" y="264.4" width="253.40" height="195.10" fill="none" stroke="#111" stroke-width="1.5"/>
<polyline points="78.0,294.9 78.8,293.8 79.6,294.4 80.4,297.7 81.2,301.5 82.0,301.9 82.8,302.3 83.6,301.5 84.4,300.7 85.2,299.9 86.0,299.4 86.8,300.6 87.6,301.5 88.4,302.1 89.2,302.9 90.0,303.6 90.8,303.5 91.6,303.7 92.4,302.6 93.2,303.8 94.0,304.2 94.8,303.8 95.6,303.1 96.4,302.8 97.2,303.2 98.0,302.7 98.8,303.3 99.6,302.8 100.4,303.4 101.2,303.5 102.0,302.2 102.8,303.1 103.6,302.7 104.4,302.4 105.2,302.8 106.0,302.9 106.8,303.4 107.6,302.4 108.4,303.5 109.2,303.8 110.0,303.3 110.8,303.3 111.6,303.0 112.4,302.6 113.2,303.3 114.0,303.2 114.8,303.4 115.6,304.1 116.4,303.4 117.2,303.3 118.0,303.7 118.8,302.6 119.6,302.7 120.4,303.0 121.2,302.9 122.0,303.4 122.8,303.0 123.6,303.9 124.4,303.8 125.2,303.5 126.0,303.0 126.8,303.5 127.6,303.5 128.4,302.8 129.2,303.4 130.0,303.5 130.8,303.3 131.6,303.9 132.4,303.7 133.2,302.9 134.0,303.3 134.8,302.9 135.6,303.5 136.4,302.9 137.2,303.7 138.0,303.4 138.8,303.7 139.6,303.2 140.4,302.7 141.2,304.0 142.0,303.2 142.8,303.9 143.6,303.5 144.4,303.6 145.2,304.0 146.0,303.5 146.8,303.9 147.6,302.7 148.4,303.7 149.2,303.2 150.0,303.3 150.8,303.3 151.6,303.5 152.4,304.0 153.2,302.6 154.0,303.4 154.8,303.1 155.6,303.8 156.4,303.2 157.2,303.5 158.0,303.2 158.8,303.6 159.6,303.8 160.4,303.2 161.2,303.4 162.0,302.8 162.8,303.5 163.6,303.7 164.4,303.1 165.2,303.8 166.0,302.5 166.8,302.6 167.6,302.8 168.4,303.2 169.2,303.4 170.0,303.3 170.8,303.3 171.6,303.7 172.4,303.2 173.2,302.9 174.0,302.9 174.8,304.2 175.6,302.4 176.4,303.3 177.2,304.0 178.0,303.6 178.8,303.1 179.6,303.4 180.4,303.7 181.2,303.9 182.0,303.0 182.8,303.7 183.6,303.5 184.4,303.8 185.2,303.9 186.0,303.3 186.8,302.8 187.6,303.6 188.4,304.1 189.2,303.7 190.0,303.5 190.8,304.4 191.6,303.0 192.4,303.8 193.2,303.2 194.0,303.4 194.8,303.4 195.6,304.0 196.4,303.0 197.2,303.2 198.0,302.8 198.8,303.6 199.6,303.2 200.4,303.6 201.2,303.0 202.0,303.3 202.8,303.8 203.6,303.3 204.4,303.7 205.2,303.6 206.0,303.3 206.8,302.8 207.6,303.8 208.4,303.5 209.2,303.8 210.0,302.6 210.8,302.7 211.6,302.5 212.4,303.0 213.2,303.8 214.0,303.6 214.8,303.4 215.6,303.5 216.4,303.7 217.2,303.3 218.0,303.6 218.8,303.5 219.6,302.5 220.4,303.2 221.2,303.9 222.0,303.2 222.8,303.3 223.6,303.2 224.4,303.2 225.2,303.8 226.0,303.3 226.8,303.0 227.6,302.2 228.4,303.2 229.2,302.6 230.0,302.7 230.8,303.7 231.6,303.7 232.4,302.6 233.2,303.7 234.0,303.6 234.8,303.1 235.6,303.7 236.4,302.7 237.2,302.9 238.0,302.8 238.8,303.0 239.6,303.8 240.4,302.9 241.2,302.9 242.0,303.0 242.8,303.5 243.6,303.3 244.4,303.7 245.2,303.1 246.0,302.9 246.8,303.2 247.6,303.4 248.4,303.0 249.2,303.5 250.0,304.1 250.8,303.2 251.6,303.4 252.4,303.9 253.2,303.1 254.0,303.1 254.8,303.0 255.6,303.6 256.4,303.6 257.2,303.3 258.0,303.4 258.8,303.9 259.6,303.7 260.4,302.8 261.2,303.4 262.0,303.4 262.8,303.7 263.6,303.3 264.4,303.1 265.2,303.2 266.0,302.7 266.8,303.4 267.6,303.2 268.4,303.6 269.2,303.0 270.0,303.2 270.8,303.0 271.6,303.0 272.4,303.7 273.2,303.2 274.0,303.6 274.8,302.9 275.6,303.4 276.4,302.7 277.2,303.2 278.0,303.2 278.8,303.6 279.6,303.5 280.4,303.3 281.2,303.7 282.0,303.5 282.8,303.6 283.6,303.7 284.4,303.4 285.2,303.3 286.0,303.5 286.8,303.2 287.6,303.5 288.4,303.8 289.2,303.7 290.0,303.2 290.8,302.9 291.6,303.4 292.4,303.3 293.2,303.8 294.0,303.2 294.8,303.3 295.6,303.7 296.4,303.2 297.2,303.3 298.0,304.1 298.8,304.0 299.6,303.6 300.4,303.5 301.2,303.0 302.0,303.6 302.8,303.4 303.6,303.5 304.4,303.2 305.2,303.4 306.0,303.3 306.8,303.5 307.6,304.0 308.4,303.5 309.2,302.7 310.0,303.0 310.8,302.7 311.6,303.1 312.4,303.6 313.2,303.5 314.0,303.1 314.8,303.5 315.6,303.1 316.4,302.8 317.2,302.8 318.0,303.0 318.8,303.9 319.6,302.8 320.4,303.9 321.2,303.9 322.0,303.3 322.8,303.4 323.6,303.1 324.4,303.4 325.2,303.6 326.0,303.4 326.8,303.8 327.6,303.9 328.4,303.5 329.2,303.5 330.0,303.4 330.8,303.5 331.6,302.9 332.4,303.5 333.2,303.5 334.0,303.0 334.8,304.2" fill="none" stroke="#000000" stroke-width="2.4" stroke-linejoin="round" clip-path="url(#cc)"/>
<polyline points="78.0,296.6 78.8,296.7 79.6,297.1 80.4,296.5 81.2,297.5 82.0,298.2 82.8,299.4 83.6,300.5 84.4,301.3 85.2,302.2 86.0,302.6 86.8,303.3 87.6,303.7 88.4,304.0 89.2,305.3 90.0,305.5 90.8,306.2 91.6,307.8 92.4,308.6 93.2,309.4 94.0,310.8 94.8,312.1 95.6,312.8 96.4,314.7 97.2,316.1 98.0,318.4 98.8,320.3 99.6,323.2 100.4,325.5 101.2,327.9 102.0,331.3 102.8,334.3 103.6,338.3 104.4,342.0 105.2,345.7 106.0,348.9 106.8,353.4 107.6,357.2 108.4,360.4 109.2,363.8 110.0,365.8 110.8,368.7 111.6,370.0 112.4,371.9 113.2,373.1 114.0,373.5 114.8,372.6 115.6,371.7 116.4,369.8 117.2,368.0 118.0,366.3 118.8,362.9 119.6,359.0 120.4,356.1 121.2,353.3 122.0,350.5 122.8,346.8 123.6,343.0 124.4,338.7 125.2,336.0 126.0,333.1 126.8,330.3 127.6,327.9 128.4,325.3 129.2,323.7 130.0,321.5 130.8,319.0 131.6,317.0 132.4,316.7 133.2,314.8 134.0,314.5 134.8,314.0 135.6,312.4 136.4,312.3 137.2,311.7 138.0,311.7 138.8,311.5 139.6,311.9 140.4,311.3 141.2,311.0 142.0,311.3 142.8,310.7 143.6,310.6 144.4,311.4 145.2,310.1 146.0,310.1 146.8,310.0 147.6,309.4 148.4,308.7 149.2,309.6 150.0,308.7 150.8,308.6 151.6,308.5 152.4,308.1 153.2,307.8 154.0,308.1 154.8,308.7 155.6,307.9 156.4,307.8 157.2,306.9 158.0,307.2 158.8,306.7 159.6,307.3 160.4,306.9 161.2,306.9 162.0,306.7 162.8,306.5 163.6,306.1 164.4,306.7 165.2,306.0 166.0,306.0 166.8,306.2 167.6,306.0 168.4,306.3 169.2,306.4 170.0,306.1 170.8,306.0 171.6,305.9 172.4,306.1 173.2,305.1 174.0,305.8 174.8,305.3 175.6,305.1 176.4,305.5 177.2,305.3 178.0,305.6 178.8,305.7 179.6,304.5 180.4,305.2 181.2,305.9 182.0,305.5 182.8,305.6 183.6,305.1 184.4,304.5 185.2,304.6 186.0,305.2 186.8,305.2 187.6,304.6 188.4,304.7 189.2,304.9 190.0,304.1 190.8,304.6 191.6,305.3 192.4,305.4 193.2,304.6 194.0,305.3 194.8,304.4 195.6,304.3 196.4,303.8 197.2,304.9 198.0,304.4 198.8,305.3 199.6,304.6 200.4,304.5 201.2,303.8 202.0,305.0 202.8,304.3 203.6,304.4 204.4,303.6 205.2,304.7 206.0,304.7 206.8,304.2 207.6,304.4 208.4,304.5 209.2,304.7 210.0,304.4 210.8,304.9 211.6,304.2 212.4,304.1 213.2,304.1 214.0,303.4 214.8,304.0 215.6,304.6 216.4,304.3 217.2,303.9 218.0,304.3 218.8,303.5 219.6,304.1 220.4,304.4 221.2,304.4 222.0,303.9 222.8,304.5 223.6,304.8 224.4,304.0 225.2,304.4 226.0,303.6 226.8,303.4 227.6,304.3 228.4,304.1 229.2,304.2 230.0,303.9 230.8,304.0 231.6,304.3 232.4,304.6 233.2,304.0 234.0,303.4 234.8,304.5 235.6,304.2 236.4,304.2 237.2,304.1 238.0,304.8 238.8,304.0 239.6,304.1 240.4,303.3 241.2,303.7 242.0,303.7 242.8,303.9 243.6,304.0 244.4,303.7 245.2,304.5 246.0,303.5 246.8,303.7 247.6,304.0 248.4,303.4 249.2,304.1 250.0,304.1 250.8,303.8 251.6,304.5 252.4,303.9 253.2,303.9 254.0,303.5 254.8,303.2 255.6,303.6 256.4,303.7 257.2,303.6 258.0,304.1 258.8,302.9 259.6,303.4 260.4,303.1 261.2,304.2 262.0,303.6 262.8,303.6 263.6,303.4 264.4,304.1 265.2,303.6 266.0,303.8 266.8,303.0 267.6,304.1 268.4,303.8 269.2,303.9 270.0,304.1 270.8,303.6 271.6,303.6 272.4,303.9 273.2,303.8 274.0,303.6 274.8,303.7 275.6,303.5 276.4,303.9 277.2,304.0 278.0,303.6 278.8,304.3 279.6,303.1 280.4,303.6 281.2,304.2 282.0,303.5 282.8,303.1 283.6,304.1 284.4,303.8 285.2,303.2 286.0,303.9 286.8,303.2 287.6,303.1 288.4,303.5 289.2,303.4 290.0,303.2 290.8,303.5 291.6,303.2 292.4,303.6 293.2,303.6 294.0,303.8 294.8,303.4 295.6,303.1 296.4,303.1 297.2,303.5 298.0,304.1 298.8,303.8 299.6,303.3 300.4,303.9 301.2,303.1 302.0,303.9 302.8,303.4 303.6,303.8 304.4,303.7 305.2,303.4 306.0,303.6 306.8,303.1 307.6,303.5 308.4,303.9 309.2,305.0 310.0,303.8 310.8,303.5 311.6,303.2 312.4,303.9 313.2,302.9 314.0,303.2 314.8,303.6 315.6,303.1 316.4,304.0 317.2,303.9 318.0,303.3 318.8,303.3 319.6,303.0 320.4,303.0 321.2,303.6 322.0,303.7 322.8,303.6 323.6,303.6 324.4,303.3 325.2,303.6 326.0,303.0 326.8,303.5 327.6,304.0 328.4,303.9 329.2,303.3 330.0,303.4 330.8,304.0 331.6,304.1 332.4,303.0 333.2,303.3 334.0,303.6 334.8,303.9" fill="none" stroke="#c2d6ef" stroke-width="2.4" stroke-linejoin="round" clip-path="url(#cc)"/>
<polyline points="78.0,268.1 78.8,270.3 79.6,271.8 80.4,274.5 81.2,275.6 82.0,277.3 82.8,279.1 83.6,281.4 84.4,283.0 85.2,284.0 86.0,286.0 86.8,286.9 87.6,288.5 88.4,289.7 89.2,291.0 90.0,292.6 90.8,294.1 91.6,296.7 92.4,299.2 93.2,301.7 94.0,305.1 94.8,310.1 95.6,313.9 96.4,319.2 97.2,325.2 98.0,329.8 98.8,334.4 99.6,338.4 100.4,342.5 101.2,347.5 102.0,352.8 102.8,357.2 103.6,362.2 104.4,366.9 105.2,371.9 106.0,377.5 106.8,382.5 107.6,387.3 108.4,392.7 109.2,398.0 110.0,403.0 110.8,406.4 111.6,409.9 112.4,412.0 113.2,414.7 114.0,417.1 114.8,419.0 115.6,419.7 116.4,420.7 117.2,420.9 118.0,419.1 118.8,417.2 119.6,415.8 120.4,413.6 121.2,411.5 122.0,408.8 122.8,405.4 123.6,402.2 124.4,398.6 125.2,394.3 126.0,390.5 126.8,387.2 127.6,382.5 128.4,379.7 129.2,376.1 130.0,372.7 130.8,369.8 131.6,366.8 132.4,364.3 133.2,361.2 134.0,359.0 134.8,356.9 135.6,355.7 136.4,353.5 137.2,351.0 138.0,349.3 138.8,347.3 139.6,345.8 140.4,344.3 141.2,343.8 142.0,341.1 142.8,341.0 143.6,339.5 144.4,337.6 145.2,336.0 146.0,334.1 146.8,332.8 147.6,332.0 148.4,330.1 149.2,330.2 150.0,328.8 150.8,328.7 151.6,327.6 152.4,327.3 153.2,326.5 154.0,326.1 154.8,325.2 155.6,324.3 156.4,324.4 157.2,323.9 158.0,323.9 158.8,322.0 159.6,322.2 160.4,322.2 161.2,321.0 162.0,321.0 162.8,321.4 163.6,320.8 164.4,319.6 165.2,320.1 166.0,319.7 166.8,319.2 167.6,318.7 168.4,318.4 169.2,317.7 170.0,317.5 170.8,317.7 171.6,317.2 172.4,317.5 173.2,316.4 174.0,315.4 174.8,315.9 175.6,315.9 176.4,315.7 177.2,315.3 178.0,314.8 178.8,315.3 179.6,314.4 180.4,314.6 181.2,314.1 182.0,313.6 182.8,314.3 183.6,312.8 184.4,313.2 185.2,313.5 186.0,313.0 186.8,313.3 187.6,312.8 188.4,312.5 189.2,313.3 190.0,312.3 190.8,312.2 191.6,311.8 192.4,311.8 193.2,312.1 194.0,312.0 194.8,311.7 195.6,311.3 196.4,311.7 197.2,310.8 198.0,311.1 198.8,311.1 199.6,310.7 200.4,311.0 201.2,310.6 202.0,310.5 202.8,311.3 203.6,310.8 204.4,310.9 205.2,310.4 206.0,310.6 206.8,310.5 207.6,310.6 208.4,310.9 209.2,309.9 210.0,310.0 210.8,309.8 211.6,308.5 212.4,309.2 213.2,309.6 214.0,309.7 214.8,309.2 215.6,309.7 216.4,309.7 217.2,309.0 218.0,309.6 218.8,309.7 219.6,309.1 220.4,308.5 221.2,309.3 222.0,308.7 222.8,308.5 223.6,308.6 224.4,308.3 225.2,308.8 226.0,308.7 226.8,308.7 227.6,308.4 228.4,307.9 229.2,308.1 230.0,308.3 230.8,307.8 231.6,308.9 232.4,307.8 233.2,307.6 234.0,308.1 234.8,307.9 235.6,307.6 236.4,307.5 237.2,307.6 238.0,307.7 238.8,307.6 239.6,307.2 240.4,307.4 241.2,307.5 242.0,307.4 242.8,306.0 243.6,306.8 244.4,306.8 245.2,306.9 246.0,307.0 246.8,307.2 247.6,307.0 248.4,306.7 249.2,306.7 250.0,307.3 250.8,306.4 251.6,306.7 252.4,307.1 253.2,306.6 254.0,305.7 254.8,306.5 255.6,306.2 256.4,306.3 257.2,306.6 258.0,306.4 258.8,306.1 259.6,306.5 260.4,306.3 261.2,306.1 262.0,306.1 262.8,306.1 263.6,305.8 264.4,305.7 265.2,305.9 266.0,305.5 266.8,305.4 267.6,306.2 268.4,305.6 269.2,305.7 270.0,305.6 270.8,305.6 271.6,305.6 272.4,305.6 273.2,305.2 274.0,305.8 274.8,305.2 275.6,305.8 276.4,304.7 277.2,305.0 278.0,305.7 278.8,305.3 279.6,305.1 280.4,305.4 281.2,304.9 282.0,305.3 282.8,304.4 283.6,305.0 284.4,304.9 285.2,305.3 286.0,305.4 286.8,304.8 287.6,305.6 288.4,304.8 289.2,304.3 290.0,304.2 290.8,305.5 291.6,304.9 292.4,304.7 293.2,304.7 294.0,304.5 294.8,305.3 295.6,304.8 296.4,305.5 297.2,304.7 298.0,304.0 298.8,305.1 299.6,304.6 300.4,304.6 301.2,305.3 302.0,304.6 302.8,305.1 303.6,304.6 304.4,304.4 305.2,304.8 306.0,304.4 306.8,305.0 307.6,304.9 308.4,304.6 309.2,304.7 310.0,304.7 310.8,304.4 311.6,304.8 312.4,304.4 313.2,304.7 314.0,304.1 314.8,304.4 315.6,304.5 316.4,304.1 317.2,304.2 318.0,304.2 318.8,304.6 319.6,304.1 320.4,304.5 321.2,304.8 322.0,304.4 322.8,303.7 323.6,304.3 324.4,304.6 325.2,304.2 326.0,304.6 326.8,304.5 327.6,304.4 328.4,304.1 329.2,304.0 330.0,304.1 330.8,304.2 331.6,304.4 332.4,304.4 333.2,304.1 334.0,304.2 334.8,304.3" fill="none" stroke="#3b4fa6" stroke-width="2.4" stroke-linejoin="round" clip-path="url(#cc)"/>
<polyline points="78.8,264.0 79.6,265.3 80.4,266.4 81.2,267.9 82.0,269.6 82.8,271.5 83.6,273.2 84.4,275.0 85.2,275.6 86.0,275.4 86.8,276.5 87.6,276.8 88.4,278.9 89.2,279.7 90.0,281.9 90.8,285.3 91.6,288.7 92.4,292.5 93.2,297.0 94.0,300.7 94.8,305.4 95.6,310.1 96.4,313.9 97.2,319.4 98.0,323.6 98.8,327.9 99.6,331.3 100.4,335.8 101.2,339.4 102.0,342.7 102.8,347.3 103.6,350.1 104.4,353.1 105.2,356.6 106.0,360.2 106.8,363.8 107.6,367.2 108.4,371.3 109.2,375.5 110.0,378.8 110.8,383.3 111.6,387.3 112.4,391.4 113.2,395.3 114.0,398.4 114.8,400.8 115.6,403.1 116.4,405.1 117.2,405.5 118.0,405.5 118.8,404.5 119.6,402.2 120.4,401.4 121.2,399.1 122.0,396.7 122.8,393.4 123.6,390.9 124.4,388.4 125.2,386.1 126.0,383.4 126.8,380.8 127.6,378.7 128.4,375.9 129.2,372.6 130.0,370.0 130.8,368.2 131.6,365.0 132.4,362.9 133.2,360.4 134.0,357.0 134.8,354.6 135.6,352.5 136.4,350.2 137.2,348.4 138.0,347.2 138.8,346.3 139.6,344.5 140.4,343.3 141.2,342.0 142.0,340.4 142.8,340.2 143.6,337.5 144.4,336.6 145.2,335.2 146.0,332.8 146.8,331.9 147.6,331.0 148.4,329.3 149.2,328.8 150.0,327.5 150.8,327.3 151.6,326.5 152.4,325.9 153.2,325.7 154.0,324.9 154.8,324.6 155.6,323.9 156.4,322.7 157.2,322.8 158.0,322.4 158.8,321.2 159.6,321.8 160.4,320.9 161.2,320.6 162.0,319.8 162.8,319.7 163.6,319.4 164.4,318.8 165.2,318.6 166.0,317.5 166.8,318.4 167.6,317.2 168.4,316.5 169.2,316.7 170.0,316.4 170.8,316.6 171.6,315.8 172.4,315.9 173.2,315.2 174.0,316.1 174.8,315.2 175.6,315.5 176.4,314.2 177.2,314.5 178.0,313.7 178.8,314.0 179.6,313.8 180.4,312.8 181.2,312.8 182.0,312.6 182.8,312.3 183.6,312.4 184.4,312.2 185.2,311.8 186.0,312.2 186.8,312.2 187.6,311.4 188.4,311.6 189.2,311.6 190.0,311.4 190.8,311.2 191.6,311.6 192.4,311.5 193.2,311.3 194.0,310.9 194.8,311.5 195.6,311.4 196.4,310.5 197.2,310.5 198.0,310.9 198.8,310.1 199.6,310.4 200.4,310.2 201.2,309.8 202.0,309.9 202.8,309.4 203.6,309.7 204.4,309.1 205.2,310.5 206.0,310.2 206.8,310.0 207.6,309.6 208.4,309.8 209.2,309.8 210.0,309.6 210.8,309.5 211.6,308.8 212.4,309.2 213.2,308.8 214.0,308.5 214.8,308.4 215.6,308.9 216.4,309.1 217.2,308.1 218.0,309.2 218.8,309.0 219.6,308.3 220.4,308.2 221.2,308.2 222.0,308.5 222.8,308.0 223.6,307.7 224.4,308.1 225.2,307.2 226.0,307.9 226.8,308.2 227.6,307.8 228.4,307.9 229.2,307.7 230.0,307.8 230.8,307.5 231.6,307.1 232.4,307.2 233.2,307.2 234.0,307.6 234.8,307.7 235.6,307.2 236.4,306.8 237.2,306.7 238.0,306.9 238.8,307.4 239.6,306.9 240.4,306.8 241.2,306.5 242.0,307.0 242.8,306.7 243.6,306.6 244.4,306.6 245.2,307.1 246.0,306.4 246.8,307.0 247.6,306.8 248.4,306.3 249.2,306.6 250.0,306.2 250.8,305.9 251.6,306.1 252.4,305.8 253.2,306.2 254.0,306.0 254.8,306.2 255.6,306.2 256.4,304.8 257.2,306.0 258.0,305.2 258.8,305.9 259.6,305.5 260.4,305.8 261.2,306.2 262.0,305.1 262.8,305.7 263.6,305.6 264.4,304.9 265.2,305.7 266.0,305.5 266.8,305.3 267.6,305.2 268.4,306.5 269.2,305.2 270.0,304.7 270.8,305.0 271.6,305.1 272.4,305.1 273.2,305.2 274.0,304.8 274.8,305.3 275.6,305.0 276.4,304.6 277.2,304.8 278.0,304.9 278.8,305.3 279.6,305.2 280.4,304.9 281.2,305.0 282.0,305.0 282.8,305.6 283.6,304.7 284.4,305.0 285.2,305.1 286.0,304.5 286.8,304.9 287.6,304.9 288.4,304.6 289.2,305.0 290.0,305.1 290.8,305.1 291.6,304.6 292.4,304.7 293.2,305.5 294.0,304.2 294.8,304.7 295.6,304.9 296.4,304.6 297.2,304.8 298.0,304.6 298.8,304.8 299.6,304.9 300.4,304.4 301.2,304.5 302.0,304.4 302.8,304.3 303.6,304.4 304.4,304.0 305.2,304.6 306.0,305.0 306.8,304.9 307.6,304.8 308.4,304.0 309.2,304.8 310.0,304.0 310.8,304.2 311.6,304.9 312.4,303.9 313.2,304.5 314.0,304.3 314.8,304.1 315.6,303.9 316.4,304.3 317.2,304.0 318.0,304.5 318.8,304.6 319.6,303.6 320.4,303.9 321.2,304.0 322.0,303.7 322.8,303.7 323.6,304.1 324.4,304.0 325.2,303.5 326.0,303.9 326.8,304.2 327.6,303.6 328.4,303.7 329.2,304.6 330.0,304.5 330.8,303.4 331.6,303.5 332.4,304.1 333.2,303.6 334.0,303.9 334.8,303.8" fill="none" stroke="#bf50b0" stroke-width="2.4" stroke-linejoin="round" clip-path="url(#cc)"/>
<polyline points="78.0,280.6 78.8,279.6 79.6,279.9 80.4,280.4 81.2,281.4 82.0,281.2 82.8,280.9 83.6,281.9 84.4,282.2 85.2,282.2 86.0,282.5 86.8,283.0 87.6,283.7 88.4,283.7 89.2,284.3 90.0,284.6 90.8,285.1 91.6,285.6 92.4,287.0 93.2,287.9 94.0,289.3 94.8,291.1 95.6,292.6 96.4,294.7 97.2,296.2 98.0,299.6 98.8,301.8 99.6,304.3 100.4,306.8 101.2,310.2 102.0,312.8 102.8,315.0 103.6,317.6 104.4,320.9 105.2,323.8 106.0,327.6 106.8,329.5 107.6,332.3 108.4,335.5 109.2,337.9 110.0,340.1 110.8,342.5 111.6,345.4 112.4,347.3 113.2,350.2 114.0,352.5 114.8,355.3 115.6,357.5 116.4,359.0 117.2,361.0 118.0,361.5 118.8,362.1 119.6,361.2 120.4,360.0 121.2,359.2 122.0,358.0 122.8,356.9 123.6,356.4 124.4,355.3 125.2,354.4 126.0,352.5 126.8,351.3 127.6,349.9 128.4,349.5 129.2,348.1 130.0,346.3 130.8,345.2 131.6,343.5 132.4,340.9 133.2,340.1 134.0,338.2 134.8,336.5 135.6,335.1 136.4,334.7 137.2,333.5 138.0,332.6 138.8,330.5 139.6,329.7 140.4,329.2 141.2,327.3 142.0,326.4 142.8,324.8 143.6,325.0 144.4,323.6 145.2,322.4 146.0,321.3 146.8,320.2 147.6,319.5 148.4,319.1 149.2,318.0 150.0,318.1 150.8,316.9 151.6,316.2 152.4,316.4 153.2,315.4 154.0,315.3 154.8,314.6 155.6,313.6 156.4,314.2 157.2,313.3 158.0,313.8 158.8,312.6 159.6,312.2 160.4,312.7 161.2,312.5 162.0,312.2 162.8,311.5 163.6,312.0 164.4,311.0 165.2,311.1 166.0,310.8 166.8,310.8 167.6,311.0 168.4,310.3 169.2,310.6 170.0,310.5 170.8,309.5 171.6,309.5 172.4,309.7 173.2,309.4 174.0,309.6 174.8,308.7 175.6,309.5 176.4,309.4 177.2,308.9 178.0,308.4 178.8,308.8 179.6,308.5 180.4,308.8 181.2,308.4 182.0,308.6 182.8,308.1 183.6,308.7 184.4,307.3 185.2,307.7 186.0,308.2 186.8,307.4 187.6,308.1 188.4,307.4 189.2,307.8 190.0,307.4 190.8,307.5 191.6,307.7 192.4,307.5 193.2,307.4 194.0,308.2 194.8,307.4 195.6,307.0 196.4,307.6 197.2,307.6 198.0,307.7 198.8,307.8 199.6,306.8 200.4,307.5 201.2,307.4 202.0,307.0 202.8,307.0 203.6,305.9 204.4,306.7 205.2,307.4 206.0,306.1 206.8,306.5 207.6,306.8 208.4,306.8 209.2,307.2 210.0,305.9 210.8,306.5 211.6,306.8 212.4,306.0 213.2,306.4 214.0,307.0 214.8,306.8 215.6,306.4 216.4,305.3 217.2,306.1 218.0,306.3 218.8,306.0 219.6,306.0 220.4,307.1 221.2,305.9 222.0,305.6 222.8,306.0 223.6,305.8 224.4,305.7 225.2,305.8 226.0,306.0 226.8,305.8 227.6,305.3 228.4,305.6 229.2,305.8 230.0,305.4 230.8,306.0 231.6,305.8 232.4,305.2 233.2,305.6 234.0,306.2 234.8,306.0 235.6,305.4 236.4,305.7 237.2,305.1 238.0,304.8 238.8,305.5 239.6,305.4 240.4,305.5 241.2,305.3 242.0,305.4 242.8,305.1 243.6,305.4 244.4,305.5 245.2,305.2 246.0,305.4 246.8,304.5 247.6,304.9 248.4,305.6 249.2,305.7 250.0,305.2 250.8,305.0 251.6,304.6 252.4,305.2 253.2,305.3 254.0,304.5 254.8,305.2 255.6,305.1 256.4,305.1 257.2,304.5 258.0,305.1 258.8,304.4 259.6,305.4 260.4,304.9 261.2,304.4 262.0,305.3 262.8,305.2 263.6,304.6 264.4,305.5 265.2,304.4 266.0,304.9 266.8,305.1 267.6,303.9 268.4,305.0 269.2,304.7 270.0,304.7 270.8,304.3 271.6,304.8 272.4,304.2 273.2,304.3 274.0,304.4 274.8,304.1 275.6,305.1 276.4,304.1 277.2,304.3 278.0,304.4 278.8,304.5 279.6,304.8 280.4,304.8 281.2,304.4 282.0,304.3 282.8,304.5 283.6,304.7 284.4,304.7 285.2,304.2 286.0,303.7 286.8,305.1 287.6,304.7 288.4,304.4 289.2,304.5 290.0,304.2 290.8,304.0 291.6,304.2 292.4,304.2 293.2,304.1 294.0,303.8 294.8,304.2 295.6,304.5 296.4,304.1 297.2,304.2 298.0,303.5 298.8,304.1 299.6,304.2 300.4,303.8 301.2,303.6 302.0,304.3 302.8,303.9 303.6,304.3 304.4,304.0 305.2,304.4 306.0,304.0 306.8,303.6 307.6,304.1 308.4,304.0 309.2,304.3 310.0,303.9 310.8,304.0 311.6,304.4 312.4,304.5 313.2,304.3 314.0,304.4 314.8,304.2 315.6,304.3 316.4,304.4 317.2,304.2 318.0,304.1 318.8,304.1 319.6,304.9 320.4,304.0 321.2,303.9 322.0,303.9 322.8,304.0 323.6,304.1 324.4,303.6 325.2,303.3 326.0,304.1 326.8,303.4 327.6,304.1 328.4,304.1 329.2,304.4 330.0,304.6 330.8,304.1 331.6,303.8 332.4,303.6 333.2,303.7 334.0,304.0 334.8,303.3" fill="none" stroke="#137a6d" stroke-width="2.4" stroke-linejoin="round" clip-path="url(#cc)"/>
<polyline points="78.0,279.5 78.8,279.7 79.6,280.3 80.4,281.0 81.2,283.2 82.0,285.1 82.8,286.7 83.6,287.4 84.4,289.1 85.2,290.5 86.0,290.5 86.8,290.8 87.6,290.4 88.4,291.4 89.2,290.7 90.0,291.3 90.8,291.2 91.6,291.0 92.4,292.1 93.2,292.5 94.0,293.6 94.8,295.0 95.6,296.3 96.4,297.5 97.2,298.9 98.0,299.7 98.8,301.1 99.6,302.1 100.4,303.4 101.2,305.5 102.0,307.3 102.8,309.0 103.6,310.7 104.4,310.8 105.2,312.5 106.0,312.8 106.8,314.5 107.6,316.0 108.4,316.9 109.2,318.5 110.0,320.8 110.8,322.3 111.6,323.9 112.4,325.3 113.2,328.1 114.0,329.4 114.8,331.3 115.6,334.3 116.4,335.6 117.2,336.5 118.0,337.7 118.8,337.9 119.6,338.5 120.4,338.6 121.2,338.2 122.0,338.8 122.8,338.3 123.6,337.5 124.4,337.1 125.2,337.2 126.0,336.2 126.8,335.8 127.6,335.4 128.4,334.5 129.2,333.2 130.0,333.1 130.8,332.4 131.6,331.4 132.4,330.8 133.2,329.5 134.0,328.8 134.8,328.1 135.6,326.5 136.4,326.3 137.2,325.3 138.0,324.0 138.8,323.5 139.6,322.2 140.4,320.8 141.2,320.6 142.0,319.5 142.8,318.7 143.6,317.8 144.4,317.4 145.2,316.4 146.0,315.3 146.8,315.0 147.6,314.5 148.4,313.5 149.2,313.0 150.0,312.5 150.8,312.0 151.6,311.8 152.4,311.7 153.2,311.6 154.0,311.0 154.8,310.7 155.6,310.5 156.4,310.3 157.2,309.5 158.0,309.7 158.8,309.4 159.6,309.0 160.4,308.7 161.2,308.5 162.0,308.4 162.8,308.0 163.6,308.4 164.4,308.1 165.2,308.0 166.0,308.0 166.8,308.0 167.6,307.5 168.4,307.5 169.2,306.9 170.0,306.6 170.8,306.7 171.6,307.8 172.4,306.6 173.2,307.3 174.0,307.6 174.8,306.9 175.6,307.5 176.4,307.6 177.2,307.2 178.0,307.6 178.8,307.0 179.6,306.4 180.4,306.8 181.2,306.4 182.0,306.1 182.8,306.1 183.6,307.3 184.4,306.2 185.2,306.4 186.0,306.1 186.8,306.4 187.6,306.2 188.4,306.1 189.2,305.8 190.0,305.7 190.8,305.9 191.6,306.2 192.4,306.8 193.2,306.4 194.0,306.6 194.8,306.1 195.6,305.9 196.4,305.4 197.2,305.9 198.0,305.1 198.8,305.7 199.6,306.3 200.4,305.8 201.2,306.1 202.0,305.5 202.8,305.1 203.6,305.4 204.4,305.4 205.2,306.0 206.0,306.2 206.8,305.2 207.6,305.3 208.4,305.4 209.2,305.3 210.0,304.9 210.8,305.4 211.6,305.4 212.4,305.4 213.2,304.8 214.0,305.2 214.8,304.6 215.6,305.5 216.4,304.8 217.2,305.0 218.0,304.9 218.8,304.8 219.6,304.6 220.4,304.4 221.2,305.6 222.0,305.0 222.8,305.0 223.6,305.6 224.4,304.8 225.2,305.0 226.0,304.8 226.8,305.2 227.6,305.0 228.4,304.9 229.2,304.6 230.0,304.8 230.8,305.1 231.6,304.0 232.4,304.6 233.2,304.5 234.0,304.5 234.8,303.9 235.6,304.8 236.4,304.3 237.2,304.5 238.0,304.4 238.8,303.9 239.6,304.4 240.4,303.9 241.2,304.2 242.0,304.4 242.8,304.5 243.6,304.5 244.4,304.4 245.2,305.2 246.0,304.6 246.8,304.0 247.6,304.2 248.4,304.2 249.2,304.3 250.0,304.1 250.8,304.0 251.6,304.9 252.4,304.3 253.2,304.2 254.0,304.2 254.8,304.2 255.6,304.8 256.4,304.4 257.2,304.6 258.0,303.1 258.8,304.3 259.6,304.6 260.4,304.9 261.2,304.2 262.0,303.6 262.8,304.4 263.6,304.0 264.4,303.5 265.2,303.9 266.0,304.5 266.8,304.5 267.6,304.4 268.4,303.7 269.2,305.0 270.0,303.7 270.8,304.0 271.6,303.5 272.4,304.5 273.2,304.2 274.0,304.3 274.8,304.0 275.6,304.0 276.4,304.1 277.2,303.3 278.0,304.3 278.8,304.3 279.6,303.8 280.4,303.9 281.2,304.0 282.0,304.5 282.8,304.1 283.6,303.9 284.4,303.7 285.2,303.4 286.0,303.7 286.8,303.9 287.6,303.8 288.4,303.9 289.2,304.1 290.0,304.0 290.8,303.9 291.6,304.1 292.4,303.9 293.2,303.8 294.0,304.0 294.8,303.2 295.6,304.2 296.4,303.3 297.2,304.1 298.0,303.8 298.8,304.2 299.6,303.8 300.4,303.4 301.2,304.1 302.0,303.8 302.8,303.8 303.6,303.8 304.4,304.1 305.2,304.0 306.0,303.8 306.8,303.2 307.6,303.6 308.4,303.7 309.2,304.3 310.0,303.8 310.8,303.7 311.6,304.1 312.4,303.6 313.2,303.7 314.0,303.7 314.8,303.1 315.6,304.0 316.4,303.8 317.2,303.6 318.0,303.3 318.8,303.7 319.6,304.1 320.4,303.4 321.2,303.3 322.0,303.8 322.8,303.1 323.6,302.9 324.4,303.5 325.2,303.4 326.0,303.5 326.8,303.4 327.6,303.7 328.4,303.5 329.2,303.4 330.0,303.5 330.8,303.8 331.6,304.0 332.4,303.9 333.2,303.9 334.0,302.5 334.8,303.3" fill="none" stroke="#f4891a" stroke-width="2.4" stroke-linejoin="round" clip-path="url(#cc)"/>
<polyline points="80.6,263.9 81.4,271.7 82.2,277.1 83.0,283.2 83.8,286.9 84.6,289.3 85.4,290.5 86.2,290.9 87.0,291.1 87.8,292.0 88.6,291.9 89.4,291.9 90.2,292.8 91.0,293.5 91.8,293.6 92.6,295.1 93.4,294.7 94.2,296.4 95.0,296.5 95.8,296.3 96.6,297.2 97.4,298.2 98.2,298.5 99.0,299.1 99.8,300.6 100.6,302.4 101.4,302.0 102.2,303.8 103.0,304.6 103.8,305.7 104.6,306.8 105.4,308.0 106.2,309.8 107.0,311.0 107.8,311.7 108.6,314.0 109.4,314.2 110.2,316.4 111.0,317.6 111.8,319.5 112.6,320.5 113.4,322.1 114.2,322.8 115.0,324.0 115.8,324.5 116.6,325.9 117.4,325.4 118.2,326.5 119.0,326.2 119.8,326.1 120.6,325.7 121.4,326.1 122.2,325.3 123.0,325.2 123.8,326.0 124.6,325.0 125.4,326.1 126.2,325.2 127.0,325.1 127.8,324.6 128.6,324.1 129.4,323.1 130.2,322.3 131.0,321.7 131.8,321.4 132.6,320.8 133.4,320.3 134.2,319.4 135.0,318.6 135.8,317.5 136.6,317.9 137.4,317.5 138.2,316.5 139.0,316.5 139.8,316.2 140.6,315.2 141.4,315.1 142.2,314.4 143.0,313.1 143.8,313.1 144.6,312.7 145.4,312.7 146.2,311.7 147.0,311.5 147.8,310.9 148.6,310.9 149.4,310.6 150.2,310.6 151.0,310.1 151.8,309.5 152.6,309.3 153.4,308.9 154.2,308.7 155.0,309.1 155.8,307.2 156.6,308.0 157.4,308.0 158.2,308.2 159.0,307.1 159.8,307.5 160.6,307.6 161.4,306.9 162.2,306.2 163.0,306.7 163.8,306.3 164.6,306.9 165.4,306.2 166.2,307.1 167.0,306.4 167.8,305.9 168.6,306.0 169.4,305.7 170.2,306.2 171.0,306.6 171.8,305.8 172.6,306.2 173.4,305.4 174.2,305.9 175.0,306.6 175.8,305.1 176.6,306.1 177.4,306.0 178.2,304.7 179.0,304.9 179.8,305.0 180.6,305.7 181.4,305.1 182.2,305.2 183.0,305.5 183.8,305.2 184.6,305.2 185.4,305.0 186.2,305.5 187.0,304.7 187.8,305.7 188.6,304.8 189.4,304.6 190.2,305.2 191.0,305.0 191.8,304.0 192.6,304.9 193.4,304.2 194.2,304.4 195.0,305.0 195.8,304.4 196.6,304.8 197.4,304.5 198.2,305.4 199.0,304.6 199.8,304.1 200.6,304.1 201.4,304.2 202.2,304.6 203.0,304.5 203.8,304.9 204.6,304.5 205.4,304.5 206.2,304.6 207.0,304.4 207.8,304.5 208.6,304.7 209.4,304.7 210.2,304.1 211.0,303.6 211.8,304.0 212.6,304.4 213.4,303.3 214.2,304.1 215.0,304.4 215.8,304.0 216.6,303.8 217.4,304.9 218.2,304.8 219.0,304.1 219.8,304.7 220.6,304.7 221.4,303.7 222.2,305.2 223.0,303.7 223.8,304.0 224.6,303.7 225.4,304.1 226.2,303.6 227.0,304.1 227.8,304.5 228.6,304.1 229.4,303.9 230.2,304.6 231.0,303.7 231.8,304.4 232.6,303.9 233.4,304.1 234.2,304.0 235.0,304.0 235.8,303.9 236.6,303.6 237.4,303.7 238.2,304.1 239.0,303.9 239.8,303.5 240.6,303.6 241.4,303.6 242.2,303.9 243.0,304.0 243.8,303.9 244.6,303.6 245.4,303.9 246.2,303.3 247.0,302.7 247.8,303.8 248.6,303.2 249.4,303.5 250.2,303.3 251.0,304.1 251.8,303.3 252.6,303.9 253.4,303.6 254.2,303.3 255.0,303.2 255.8,304.0 256.6,303.9 257.4,304.1 258.2,304.5 259.0,303.9 259.8,303.9 260.6,303.7 261.4,303.8 262.2,303.6 263.0,303.4 263.8,304.5 264.6,303.0 265.4,303.8 266.2,303.9 267.0,303.7 267.8,303.3 268.6,303.6 269.4,303.5 270.2,303.2 271.0,303.6 271.8,303.5 272.6,303.4 273.4,303.9 274.2,303.2 275.0,303.8 275.8,303.4 276.6,303.8 277.4,303.6 278.2,303.7 279.0,303.2 279.8,303.3 280.6,303.2 281.4,303.6 282.2,303.9 283.0,304.0 283.8,303.4 284.6,303.6 285.4,302.9 286.2,302.7 287.0,303.2 287.8,303.3 288.6,302.9 289.4,302.8 290.2,303.7 291.0,303.2 291.8,302.8 292.6,304.4 293.4,303.6 294.2,303.4 295.0,303.8 295.8,303.2 296.6,304.1 297.4,302.9 298.2,303.0 299.0,303.4 299.8,303.2 300.6,304.0 301.4,302.8 302.2,303.2 303.0,303.6 303.8,303.7 304.6,303.8 305.4,303.6 306.2,304.3 307.0,303.3 307.8,303.5 308.6,303.8 309.4,303.3 310.2,303.3 311.0,303.2 311.8,303.2 312.6,303.0 313.4,303.2 314.2,302.8 315.0,303.6 315.8,302.8 316.6,304.2 317.4,304.1 318.2,303.8 319.0,303.3 319.8,303.2 320.6,303.9 321.4,303.5 322.2,303.6 323.0,303.1 323.8,303.8 324.6,303.1 325.4,303.4 326.2,302.7 327.0,303.1 327.8,303.6 328.6,303.2 329.4,303.2 330.2,303.7 331.0,303.4 331.8,303.9 332.6,302.4 333.4,303.6 334.2,303.6 335.0,302.8" fill="none" stroke="#b2174b" stroke-width="2.4" stroke-linejoin="round" clip-path="url(#cc)"/>
<line x1="80.00" y1="459.5" x2="80.00" y2="463.5" stroke="#111" stroke-width="1.4"/>
<text x="80.0" y="475.6" font-size="12" text-anchor="middle" font-family="Liberation Sans, sans-serif" font-weight="bold" stroke="#000" stroke-width="0.22" >350</text>
<line x1="122.23" y1="459.5" x2="122.23" y2="462.1" stroke="#111" stroke-width="1.4"/>
<line x1="164.47" y1="459.5" x2="164.47" y2="463.5" stroke="#111" stroke-width="1.4"/>
<text x="164.5" y="475.6" font-size="12" text-anchor="middle" font-family="Liberation Sans, sans-serif" font-weight="bold" stroke="#000" stroke-width="0.22" >400</text>
<line x1="206.70" y1="459.5" x2="206.70" y2="462.1" stroke="#111" stroke-width="1.4"/>
<line x1="248.93" y1="459.5" x2="248.93" y2="463.5" stroke="#111" stroke-width="1.4"/>
<text x="248.9" y="475.6" font-size="12" text-anchor="middle" font-family="Liberation Sans, sans-serif" font-weight="bold" stroke="#000" stroke-width="0.22" >450</text>
<line x1="291.17" y1="459.5" x2="291.17" y2="462.1" stroke="#111" stroke-width="1.4"/>
<line x1="333.40" y1="459.5" x2="333.40" y2="463.5" stroke="#111" stroke-width="1.4"/>
<text x="333.4" y="475.6" font-size="12" text-anchor="middle" font-family="Liberation Sans, sans-serif" font-weight="bold" stroke="#000" stroke-width="0.22" >500</text>
<line x1="80.0" y1="264.40" x2="77.4" y2="264.40" stroke="#111" stroke-width="1.4"/>
<line x1="80.0" y1="303.42" x2="76.0" y2="303.42" stroke="#111" stroke-width="1.4"/>
<text x="73" y="307.7" font-size="12" text-anchor="end" font-family="Liberation Sans, sans-serif" font-weight="bold" stroke="#000" stroke-width="0.22" >0.00</text>
<line x1="80.0" y1="342.44" x2="77.4" y2="342.44" stroke="#111" stroke-width="1.4"/>
<line x1="80.0" y1="381.46" x2="76.0" y2="381.46" stroke="#111" stroke-width="1.4"/>
<text x="73" y="385.8" font-size="12" text-anchor="end" font-family="Liberation Sans, sans-serif" font-weight="bold" stroke="#000" stroke-width="0.22" >-0.01</text>
<line x1="80.0" y1="420.48" x2="77.4" y2="420.48" stroke="#111" stroke-width="1.4"/>
<line x1="80.0" y1="459.50" x2="76.0" y2="459.50" stroke="#111" stroke-width="1.4"/>
<text x="73" y="463.8" font-size="12" text-anchor="end" font-family="Liberation Sans, sans-serif" font-weight="bold" stroke="#000" stroke-width="0.22" >-0.02</text>
<text x="14.8" y="287.3" font-size="22" text-anchor="start" font-family="Liberation Sans, sans-serif" font-weight="bold" stroke="#000" stroke-width="0.22" >c</text>
<text x="300.5" y="284.9" font-size="15.2" text-anchor="start" font-family="Liberation Sans, sans-serif" font-weight="bold" stroke="#000" stroke-width="0.22" >DL</text>
<text x="202.2" y="495.3" font-size="15.9" text-anchor="middle" font-family="Liberation Sans, sans-serif" font-weight="bold" stroke="#000" stroke-width="0.22" >Wavelength (nm)</text>
<path d="M36.10,375.50 L25.90,380.10 L36.10,384.60" fill="none" stroke="#000" stroke-width="1.2" stroke-linejoin="round"/><line x1="35.90" y1="375.20" x2="35.90" y2="384.90" stroke="#000" stroke-width="1.9"/><text x="0" y="0" font-size="15" text-anchor="start" font-family="Liberation Sans, sans-serif" font-weight="bold" stroke="#000" stroke-width="0.22" transform="translate(35.40,374.60) rotate(-90)">A</text>
<line x1="244.5" y1="333.8" x2="273.8" y2="333.8" stroke="#000000" stroke-width="2.3"/>
<text x="276.3" y="338.1" font-size="12.3" text-anchor="start" font-family="Liberation Sans, sans-serif" font-weight="bold" stroke="#000" stroke-width="0.22" >-0.5 ps</text>
<line x1="244.5" y1="350.6" x2="273.8" y2="350.6" stroke="#c2d6ef" stroke-width="2.3"/>
<text x="276.3" y="355.0" font-size="12.3" text-anchor="start" font-family="Liberation Sans, sans-serif" font-weight="bold" stroke="#000" stroke-width="0.22" >0.1 ps</text>
<line x1="244.5" y1="367.5" x2="273.8" y2="367.5" stroke="#3b4fa6" stroke-width="2.3"/>
<text x="276.3" y="371.9" font-size="12.3" text-anchor="start" font-family="Liberation Sans, sans-serif" font-weight="bold" stroke="#000" stroke-width="0.22" >1 ps</text>
<line x1="244.5" y1="384.4" x2="273.8" y2="384.4" stroke="#bf50b0" stroke-width="2.3"/>
<text x="276.3" y="388.8" font-size="12.3" text-anchor="start" font-family="Liberation Sans, sans-serif" font-weight="bold" stroke="#000" stroke-width="0.22" >10 ps</text>
<line x1="244.5" y1="401.2" x2="273.8" y2="401.2" stroke="#137a6d" stroke-width="2.3"/>
<text x="276.3" y="405.6" font-size="12.3" text-anchor="start" font-family="Liberation Sans, sans-serif" font-weight="bold" stroke="#000" stroke-width="0.22" >388 ps</text>
<line x1="244.5" y1="418.1" x2="273.8" y2="418.1" stroke="#f4891a" stroke-width="2.3"/>
<text x="276.3" y="422.5" font-size="12.3" text-anchor="start" font-family="Liberation Sans, sans-serif" font-weight="bold" stroke="#000" stroke-width="0.22" >2188 ps</text>
<line x1="244.5" y1="435.0" x2="273.8" y2="435.0" stroke="#b2174b" stroke-width="2.3"/>
<text x="276.3" y="439.4" font-size="12.3" text-anchor="start" font-family="Liberation Sans, sans-serif" font-weight="bold" stroke="#000" stroke-width="0.22" >7288 ps</text>
<rect x="418.65" y="264.0" width="253.55" height="195.60" fill="none" stroke="#111" stroke-width="1.7"/>
<line x1="418.65" y1="329.20" x2="672.2" y2="329.20" stroke="#111" stroke-width="1.9"/>
<line x1="418.65" y1="394.40" x2="672.2" y2="394.40" stroke="#111" stroke-width="1.9"/>
<g fill="#2b2b2b" clip-path="url(#cd)"><circle cx="418.4" cy="329.2" r="2.85"/><circle cx="418.7" cy="327.2" r="2.85"/><circle cx="418.4" cy="325.2" r="2.85"/><circle cx="418.5" cy="323.2" r="2.85"/><circle cx="418.7" cy="321.2" r="2.85"/><circle cx="418.5" cy="319.2" r="2.85"/><circle cx="418.7" cy="317.2" r="2.85"/><circle cx="418.5" cy="315.2" r="2.85"/><circle cx="418.6" cy="313.2" r="2.85"/><circle cx="418.8" cy="311.1" r="2.85"/><circle cx="418.6" cy="309.1" r="2.85"/><circle cx="418.3" cy="307.1" r="2.85"/><circle cx="418.7" cy="305.1" r="2.85"/><circle cx="418.6" cy="303.1" r="2.85"/><circle cx="418.5" cy="301.1" r="2.85"/><circle cx="418.8" cy="299.1" r="2.85"/><circle cx="418.3" cy="297.1" r="2.85"/><circle cx="418.9" cy="295.1" r="2.85"/><circle cx="418.5" cy="293.1" r="2.85"/><circle cx="418.8" cy="291.1" r="2.85"/><circle cx="418.6" cy="289.1" r="2.85"/><circle cx="418.4" cy="287.1" r="2.85"/><circle cx="418.6" cy="285.1" r="2.85"/><circle cx="418.6" cy="283.1" r="2.85"/><circle cx="418.7" cy="281.1" r="2.85"/><circle cx="418.8" cy="279.0" r="2.85"/><circle cx="420.2" cy="318.7" r="2.85"/><circle cx="420.2" cy="325.7" r="2.85"/><circle cx="420.3" cy="278.9" r="2.85"/><circle cx="420.6" cy="280.4" r="2.85"/><circle cx="420.9" cy="281.4" r="2.85"/><circle cx="421.2" cy="281.8" r="2.85"/><circle cx="421.5" cy="282.7" r="2.85"/><circle cx="421.8" cy="284.1" r="2.85"/><circle cx="422.1" cy="286.9" r="2.85"/><circle cx="422.4" cy="288.4" r="2.85"/><circle cx="422.7" cy="288.7" r="2.85"/><circle cx="423.0" cy="289.6" r="2.85"/><circle cx="423.3" cy="292.6" r="2.85"/><circle cx="423.6" cy="291.8" r="2.85"/><circle cx="423.9" cy="293.9" r="2.85"/><circle cx="424.2" cy="294.1" r="2.85"/><circle cx="424.5" cy="294.1" r="2.85"/><circle cx="424.8" cy="296.1" r="2.85"/><circle cx="425.0" cy="296.2" r="2.85"/><circle cx="425.5" cy="298.2" r="2.85"/><circle cx="426.0" cy="299.5" r="2.85"/><circle cx="426.5" cy="298.4" r="2.85"/><circle cx="427.0" cy="299.8" r="2.85"/><circle cx="427.5" cy="300.3" r="2.85"/><circle cx="428.0" cy="299.6" r="2.85"/><circle cx="428.5" cy="299.8" r="2.85"/><circle cx="429.0" cy="301.9" r="2.85"/><circle cx="429.5" cy="300.9" r="2.85"/><circle cx="430.0" cy="301.5" r="2.85"/><circle cx="430.5" cy="301.6" r="2.85"/><circle cx="431.0" cy="302.0" r="2.85"/><circle cx="431.8" cy="302.0" r="2.85"/><circle cx="432.6" cy="303.3" r="2.85"/><circle cx="433.4" cy="303.9" r="2.85"/><circle cx="434.2" cy="303.0" r="2.85"/><circle cx="435.0" cy="302.6" r="2.85"/><circle cx="435.8" cy="303.8" r="2.85"/><circle cx="436.6" cy="303.0" r="2.85"/><circle cx="437.4" cy="303.8" r="2.85"/><circle cx="438.2" cy="305.3" r="2.85"/><circle cx="439.0" cy="306.3" r="2.85"/><circle cx="439.8" cy="305.1" r="2.85"/><circle cx="440.6" cy="304.3" r="2.85"/><circle cx="441.4" cy="305.8" r="2.85"/><circle cx="442.2" cy="304.0" r="2.85"/><circle cx="443.0" cy="305.3" r="2.85"/><circle cx="443.8" cy="307.1" r="2.85"/><circle cx="444.6" cy="306.8" r="2.85"/><circle cx="445.4" cy="305.6" r="2.85"/><circle cx="446.2" cy="305.7" r="2.85"/><circle cx="447.0" cy="307.8" r="2.85"/><circle cx="447.8" cy="307.4" r="2.85"/><circle cx="448.6" cy="307.2" r="2.85"/><circle cx="449.4" cy="308.1" r="2.85"/><circle cx="450.2" cy="307.6" r="2.85"/><circle cx="451.0" cy="306.9" r="2.85"/><circle cx="451.8" cy="309.0" r="2.85"/><circle cx="452.6" cy="308.2" r="2.85"/><circle cx="453.4" cy="308.1" r="2.85"/><circle cx="454.2" cy="308.1" r="2.85"/><circle cx="455.0" cy="309.4" r="2.85"/><circle cx="455.8" cy="308.9" r="2.85"/><circle cx="456.6" cy="310.1" r="2.85"/><circle cx="458.5" cy="310.5" r="2.85"/><circle cx="466.1" cy="310.6" r="2.85"/><circle cx="473.2" cy="311.0" r="2.85"/><circle cx="481.6" cy="313.4" r="2.85"/><circle cx="488.1" cy="312.0" r="2.85"/><circle cx="498.6" cy="313.3" r="2.85"/><circle cx="509.7" cy="313.8" r="2.85"/><circle cx="519.8" cy="314.1" r="2.85"/><circle cx="531.1" cy="315.4" r="2.85"/><circle cx="542.1" cy="314.9" r="2.85"/><circle cx="552.9" cy="315.8" r="2.85"/><circle cx="563.4" cy="315.3" r="2.85"/><circle cx="575.0" cy="316.4" r="2.85"/><circle cx="585.2" cy="315.7" r="2.85"/><circle cx="596.7" cy="316.7" r="2.85"/><circle cx="607.4" cy="316.9" r="2.85"/><circle cx="617.8" cy="317.0" r="2.85"/><circle cx="628.9" cy="317.1" r="2.85"/><circle cx="639.5" cy="317.7" r="2.85"/><circle cx="650.5" cy="317.6" r="2.85"/><circle cx="660.7" cy="318.3" r="2.85"/><circle cx="670.9" cy="318.9" r="2.85"/></g>
<polyline points="420.30,279.20 420.55,279.61 420.80,280.20 421.05,281.03 421.30,282.10 421.55,283.23 421.80,284.45 422.05,285.75 422.30,287.00 422.55,288.18 422.80,289.33 423.05,290.41 423.30,291.38 423.55,292.30 423.80,293.15 424.05,293.91 424.30,294.54 424.55,295.10 424.80,295.61 425.05,296.07 425.30,296.49 425.55,296.87 425.80,297.24 426.05,297.58 426.30,297.90 426.55,298.21 426.80,298.50 427.05,298.77 427.30,299.02 427.55,299.25 427.80,299.48 428.05,299.69 428.30,299.90 428.55,300.10 428.80,300.30 429.05,300.49 429.30,300.67 429.55,300.84 429.80,301.01 430.00,301.14 431.00,301.70 432.00,302.16 433.00,302.54 434.00,302.88 435.00,303.20 436.00,303.50 437.00,303.79 438.00,304.05 439.00,304.31 440.00,304.56 441.00,304.82 442.00,305.10 443.00,305.41 444.00,305.75 445.00,306.11 446.00,306.46 447.00,306.79 448.00,307.10 449.00,307.38 450.00,307.64 451.00,307.88 452.00,308.12 453.00,308.36 454.00,308.60 455.00,308.85 456.00,309.12 457.00,309.38 458.00,309.62 459.00,309.83 460.00,310.00 461.00,310.13 462.00,310.25 463.00,310.36 464.00,310.46 465.00,310.56 466.00,310.64 467.00,310.73 468.00,310.80 469.00,310.88 470.00,310.95 471.00,311.03 472.00,311.10 473.00,311.17 474.00,311.25 475.00,311.32 476.00,311.38 477.00,311.45 478.00,311.51 479.00,311.58 480.00,311.64 481.00,311.70 482.00,311.76 483.00,311.82 484.00,311.88 485.00,311.94 486.00,312.00 487.00,312.06 488.00,312.12 489.00,312.18 490.00,312.24 491.00,312.30 492.00,312.36 493.00,312.43 494.00,312.50 495.00,312.56 496.00,312.63 497.00,312.70 498.00,312.77 499.00,312.83 500.00,312.90 501.00,312.97 502.00,313.03 503.00,313.10 504.00,313.16 505.00,313.22 506.00,313.28 507.00,313.34 508.00,313.40 509.00,313.45 510.00,313.50 511.00,313.55 512.00,313.60 513.00,313.64 514.00,313.69 515.00,313.73 516.00,313.78 517.00,313.82 518.00,313.86 519.00,313.90 520.00,313.95 521.00,313.99 522.00,314.03 523.00,314.07 524.00,314.10 525.00,314.14 526.00,314.18 527.00,314.22 528.00,314.25 529.00,314.29 530.00,314.33 531.00,314.36 532.00,314.40 533.00,314.43 534.00,314.47 535.00,314.50 536.00,314.53 537.00,314.57 538.00,314.60 539.00,314.63 540.00,314.67 541.00,314.70 542.00,314.73 543.00,314.77 544.00,314.80 545.00,314.83 546.00,314.87 547.00,314.90 548.00,314.93 549.00,314.96 550.00,314.99 551.00,315.02 552.00,315.05 553.00,315.08 554.00,315.11 555.00,315.14 556.00,315.17 557.00,315.20 558.00,315.23 559.00,315.26 560.00,315.29 561.00,315.32 562.00,315.35 563.00,315.38 564.00,315.40 565.00,315.43 566.00,315.46 567.00,315.49 568.00,315.52 569.00,315.54 570.00,315.57 571.00,315.60 572.00,315.63 573.00,315.65 574.00,315.68 575.00,315.71 576.00,315.73 577.00,315.76 578.00,315.79 579.00,315.82 580.00,315.84 581.00,315.87 582.00,315.90 583.00,315.92 584.00,315.95 585.00,315.98 586.00,316.00 587.00,316.03 588.00,316.06 589.00,316.09 590.00,316.11 591.00,316.14 592.00,316.17 593.00,316.20 594.00,316.23 595.00,316.26 596.00,316.28 597.00,316.31 598.00,316.34 599.00,316.37 600.00,316.40 601.00,316.43 602.00,316.46 603.00,316.49 604.00,316.52 605.00,316.55 606.00,316.58 607.00,316.61 608.00,316.64 609.00,316.67 610.00,316.70 611.00,316.73 612.00,316.76 613.00,316.79 614.00,316.81 615.00,316.84 616.00,316.87 617.00,316.90 618.00,316.93 619.00,316.96 620.00,316.99 621.00,317.02 622.00,317.05 623.00,317.08 624.00,317.11 625.00,317.14 626.00,317.17 627.00,317.21 628.00,317.24 629.00,317.27 630.00,317.30 631.00,317.33 632.00,317.36 633.00,317.39 634.00,317.42 635.00,317.45 636.00,317.48 637.00,317.51 638.00,317.54 639.00,317.57 640.00,317.60 641.00,317.63 642.00,317.66 643.00,317.69 644.00,317.72 645.00,317.75 646.00,317.78 647.00,317.81 648.00,317.85 649.00,317.88 650.00,317.91 651.00,317.94 652.00,317.97 653.00,318.00 654.00,318.03 655.00,318.06 656.00,318.09 657.00,318.12 658.00,318.16 659.00,318.19 660.00,318.22 661.00,318.25 662.00,318.28 663.00,318.31 664.00,318.34 665.00,318.37 666.00,318.41 667.00,318.44 668.00,318.47 669.00,318.50 670.00,318.53 671.00,318.56 672.00,318.59 673.00,318.63" fill="none" stroke="#000000" stroke-width="2.1" clip-path="url(#cd)"/>
<line x1="418.65" y1="329.20" x2="415.65" y2="329.20" stroke="#111" stroke-width="1.4"/>
<text x="415.3" y="333.5" font-size="12" text-anchor="end" font-family="Liberation Sans, sans-serif" font-weight="bold" stroke="#000" stroke-width="0.22" >0.0</text>
<line x1="418.65" y1="316.66" x2="416.45" y2="316.66" stroke="#111" stroke-width="1.4"/>
<line x1="418.65" y1="304.12" x2="415.65" y2="304.12" stroke="#111" stroke-width="1.4"/>
<text x="415.3" y="308.4" font-size="12" text-anchor="end" font-family="Liberation Sans, sans-serif" font-weight="bold" stroke="#000" stroke-width="0.22" >0.5</text>
<line x1="418.65" y1="291.58" x2="416.45" y2="291.58" stroke="#111" stroke-width="1.4"/>
<line x1="418.65" y1="279.05" x2="415.65" y2="279.05" stroke="#111" stroke-width="1.4"/>
<text x="415.3" y="283.3" font-size="12" text-anchor="end" font-family="Liberation Sans, sans-serif" font-weight="bold" stroke="#000" stroke-width="0.22" >1.0</text>
<line x1="418.65" y1="266.51" x2="416.45" y2="266.51" stroke="#111" stroke-width="1.4"/>
<g fill="#5c71c3" clip-path="url(#cd)"><circle cx="418.5" cy="394.4" r="2.85"/><circle cx="418.7" cy="392.2" r="2.85"/><circle cx="418.6" cy="390.0" r="2.85"/><circle cx="418.5" cy="387.9" r="2.85"/><circle cx="418.8" cy="385.7" r="2.85"/><circle cx="418.7" cy="383.5" r="2.85"/><circle cx="418.9" cy="381.3" r="2.85"/><circle cx="418.8" cy="379.1" r="2.85"/><circle cx="418.7" cy="377.0" r="2.85"/><circle cx="418.6" cy="374.8" r="2.85"/><circle cx="418.4" cy="372.6" r="2.85"/><circle cx="418.7" cy="370.4" r="2.85"/><circle cx="418.6" cy="368.2" r="2.85"/><circle cx="418.7" cy="366.1" r="2.85"/><circle cx="418.6" cy="363.9" r="2.85"/><circle cx="418.5" cy="361.7" r="2.85"/><circle cx="418.4" cy="359.5" r="2.85"/><circle cx="418.7" cy="357.3" r="2.85"/><circle cx="418.8" cy="355.1" r="2.85"/><circle cx="418.6" cy="353.0" r="2.85"/><circle cx="418.7" cy="350.8" r="2.85"/><circle cx="418.8" cy="348.6" r="2.85"/><circle cx="418.5" cy="346.4" r="2.85"/><circle cx="418.5" cy="344.2" r="2.85"/><circle cx="420.2" cy="375.3" r="2.85"/><circle cx="420.2" cy="388.4" r="2.85"/><circle cx="420.3" cy="343.9" r="2.85"/><circle cx="420.6" cy="351.5" r="2.85"/><circle cx="420.9" cy="359.8" r="2.85"/><circle cx="421.2" cy="363.1" r="2.85"/><circle cx="421.5" cy="364.0" r="2.85"/><circle cx="421.8" cy="365.9" r="2.85"/><circle cx="422.1" cy="367.3" r="2.85"/><circle cx="422.4" cy="366.8" r="2.85"/><circle cx="422.7" cy="367.1" r="2.85"/><circle cx="423.0" cy="368.1" r="2.85"/><circle cx="423.3" cy="367.0" r="2.85"/><circle cx="423.6" cy="368.1" r="2.85"/><circle cx="423.9" cy="368.7" r="2.85"/><circle cx="424.2" cy="368.0" r="2.85"/><circle cx="424.5" cy="368.1" r="2.85"/><circle cx="424.8" cy="369.0" r="2.85"/><circle cx="425.0" cy="368.9" r="2.85"/><circle cx="425.5" cy="369.1" r="2.85"/><circle cx="426.0" cy="369.6" r="2.85"/><circle cx="426.5" cy="369.9" r="2.85"/><circle cx="427.0" cy="369.3" r="2.85"/><circle cx="427.5" cy="369.8" r="2.85"/><circle cx="428.0" cy="370.8" r="2.85"/><circle cx="428.5" cy="371.5" r="2.85"/><circle cx="429.0" cy="371.9" r="2.85"/><circle cx="429.5" cy="370.6" r="2.85"/><circle cx="430.0" cy="372.1" r="2.85"/><circle cx="430.5" cy="372.1" r="2.85"/><circle cx="431.0" cy="371.7" r="2.85"/><circle cx="431.8" cy="372.4" r="2.85"/><circle cx="432.6" cy="372.9" r="2.85"/><circle cx="433.4" cy="373.8" r="2.85"/><circle cx="434.2" cy="372.1" r="2.85"/><circle cx="435.0" cy="373.5" r="2.85"/><circle cx="435.8" cy="373.2" r="2.85"/><circle cx="436.6" cy="373.4" r="2.85"/><circle cx="437.4" cy="374.6" r="2.85"/><circle cx="438.2" cy="374.6" r="2.85"/><circle cx="439.0" cy="373.6" r="2.85"/><circle cx="439.8" cy="374.4" r="2.85"/><circle cx="440.6" cy="375.0" r="2.85"/><circle cx="441.4" cy="374.1" r="2.85"/><circle cx="442.2" cy="376.0" r="2.85"/><circle cx="443.0" cy="375.5" r="2.85"/><circle cx="443.8" cy="375.9" r="2.85"/><circle cx="444.6" cy="376.3" r="2.85"/><circle cx="445.4" cy="377.5" r="2.85"/><circle cx="446.2" cy="376.5" r="2.85"/><circle cx="447.0" cy="376.4" r="2.85"/><circle cx="447.8" cy="378.0" r="2.85"/><circle cx="448.6" cy="376.7" r="2.85"/><circle cx="449.4" cy="376.8" r="2.85"/><circle cx="450.2" cy="376.3" r="2.85"/><circle cx="451.0" cy="378.2" r="2.85"/><circle cx="451.8" cy="377.8" r="2.85"/><circle cx="452.6" cy="378.0" r="2.85"/><circle cx="453.4" cy="378.0" r="2.85"/><circle cx="454.2" cy="377.9" r="2.85"/><circle cx="455.0" cy="377.6" r="2.85"/><circle cx="455.8" cy="377.7" r="2.85"/><circle cx="456.6" cy="378.6" r="2.85"/><circle cx="458.6" cy="379.2" r="2.85"/><circle cx="466.0" cy="379.2" r="2.85"/><circle cx="473.5" cy="380.8" r="2.85"/><circle cx="481.0" cy="381.1" r="2.85"/><circle cx="488.9" cy="381.2" r="2.85"/><circle cx="498.7" cy="380.9" r="2.85"/><circle cx="509.8" cy="381.7" r="2.85"/><circle cx="520.3" cy="382.9" r="2.85"/><circle cx="530.6" cy="383.7" r="2.85"/><circle cx="542.3" cy="383.4" r="2.85"/><circle cx="552.6" cy="383.4" r="2.85"/><circle cx="563.2" cy="385.4" r="2.85"/><circle cx="574.7" cy="385.1" r="2.85"/><circle cx="585.2" cy="385.7" r="2.85"/><circle cx="596.7" cy="385.7" r="2.85"/><circle cx="606.6" cy="385.9" r="2.85"/><circle cx="618.3" cy="386.5" r="2.85"/><circle cx="629.4" cy="386.8" r="2.85"/><circle cx="639.1" cy="387.6" r="2.85"/><circle cx="650.3" cy="387.5" r="2.85"/><circle cx="660.6" cy="388.3" r="2.85"/><circle cx="670.3" cy="388.7" r="2.85"/></g>
<polyline points="420.30,344.30 420.55,348.38 420.80,356.81 421.05,361.58 421.30,363.79 421.55,364.96 421.80,365.66 422.05,366.17 422.30,366.55 422.55,366.86 422.80,367.12 423.05,367.34 423.30,367.53 423.55,367.71 423.80,367.87 424.05,368.03 424.30,368.19 424.55,368.34 424.80,368.48 425.05,368.62 425.30,368.75 425.55,368.87 425.80,369.00 426.05,369.12 426.30,369.25 426.55,369.38 426.80,369.50 427.05,369.63 427.30,369.76 427.55,369.88 427.80,370.00 428.05,370.13 428.30,370.25 428.55,370.37 428.80,370.48 429.05,370.60 429.30,370.71 429.55,370.82 429.80,370.92 430.00,371.00 431.00,371.38 432.00,371.73 433.00,372.06 434.00,372.38 435.00,372.69 436.00,373.00 437.00,373.32 438.00,373.64 439.00,373.96 440.00,374.28 441.00,374.60 442.00,374.91 443.00,375.22 444.00,375.51 445.00,375.78 446.00,376.04 447.00,376.28 448.00,376.50 449.00,376.70 450.00,376.89 451.00,377.07 452.00,377.24 453.00,377.41 454.00,377.56 455.00,377.72 456.00,377.86 457.00,378.00 458.00,378.14 459.00,378.27 460.00,378.40 461.00,378.53 462.00,378.65 463.00,378.77 464.00,378.89 465.00,379.00 466.00,379.11 467.00,379.22 468.00,379.32 469.00,379.42 470.00,379.52 471.00,379.61 472.00,379.70 473.00,379.79 474.00,379.87 475.00,379.96 476.00,380.04 477.00,380.12 478.00,380.20 479.00,380.27 480.00,380.35 481.00,380.42 482.00,380.49 483.00,380.56 484.00,380.63 485.00,380.70 486.00,380.77 487.00,380.84 488.00,380.90 489.00,380.97 490.00,381.04 491.00,381.10 492.00,381.16 493.00,381.23 494.00,381.29 495.00,381.36 496.00,381.42 497.00,381.48 498.00,381.55 499.00,381.61 500.00,381.67 501.00,381.73 502.00,381.79 503.00,381.84 504.00,381.90 505.00,381.95 506.00,382.01 507.00,382.06 508.00,382.11 509.00,382.15 510.00,382.20 511.00,382.24 512.00,382.29 513.00,382.33 514.00,382.37 515.00,382.41 516.00,382.45 517.00,382.49 518.00,382.52 519.00,382.56 520.00,382.60 521.00,382.63 522.00,382.67 523.00,382.70 524.00,382.73 525.00,382.77 526.00,382.80 527.00,382.83 528.00,382.87 529.00,382.90 530.00,382.93 531.00,382.96 532.00,382.99 533.00,383.03 534.00,383.06 535.00,383.09 536.00,383.12 537.00,383.16 538.00,383.19 539.00,383.22 540.00,383.26 541.00,383.29 542.00,383.33 543.00,383.36 544.00,383.40 545.00,383.44 546.00,383.47 547.00,383.51 548.00,383.55 549.00,383.59 550.00,383.63 551.00,383.66 552.00,383.70 553.00,383.74 554.00,383.78 555.00,383.82 556.00,383.86 557.00,383.90 558.00,383.93 559.00,383.97 560.00,384.01 561.00,384.05 562.00,384.09 563.00,384.13 564.00,384.17 565.00,384.21 566.00,384.25 567.00,384.29 568.00,384.33 569.00,384.37 570.00,384.41 571.00,384.45 572.00,384.49 573.00,384.53 574.00,384.57 575.00,384.61 576.00,384.65 577.00,384.69 578.00,384.73 579.00,384.77 580.00,384.81 581.00,384.85 582.00,384.89 583.00,384.93 584.00,384.97 585.00,385.01 586.00,385.05 587.00,385.09 588.00,385.13 589.00,385.17 590.00,385.21 591.00,385.25 592.00,385.29 593.00,385.33 594.00,385.37 595.00,385.41 596.00,385.45 597.00,385.48 598.00,385.52 599.00,385.56 600.00,385.60 601.00,385.64 602.00,385.68 603.00,385.71 604.00,385.75 605.00,385.79 606.00,385.83 607.00,385.87 608.00,385.91 609.00,385.94 610.00,385.98 611.00,386.02 612.00,386.06 613.00,386.10 614.00,386.13 615.00,386.17 616.00,386.21 617.00,386.25 618.00,386.29 619.00,386.32 620.00,386.36 621.00,386.40 622.00,386.44 623.00,386.48 624.00,386.51 625.00,386.55 626.00,386.59 627.00,386.63 628.00,386.66 629.00,386.70 630.00,386.74 631.00,386.78 632.00,386.81 633.00,386.85 634.00,386.89 635.00,386.93 636.00,386.96 637.00,387.00 638.00,387.04 639.00,387.08 640.00,387.11 641.00,387.15 642.00,387.19 643.00,387.23 644.00,387.26 645.00,387.30 646.00,387.34 647.00,387.37 648.00,387.41 649.00,387.45 650.00,387.49 651.00,387.52 652.00,387.56 653.00,387.60 654.00,387.63 655.00,387.67 656.00,387.71 657.00,387.74 658.00,387.78 659.00,387.82 660.00,387.85 661.00,387.89 662.00,387.93 663.00,387.96 664.00,388.00 665.00,388.04 666.00,388.07 667.00,388.11 668.00,388.15 669.00,388.18 670.00,388.22 671.00,388.26 672.00,388.29 673.00,388.33" fill="none" stroke="#3d51a9" stroke-width="2.1" clip-path="url(#cd)"/>
<line x1="418.65" y1="394.40" x2="415.65" y2="394.40" stroke="#111" stroke-width="1.4"/>
<text x="415.3" y="398.7" font-size="12" text-anchor="end" font-family="Liberation Sans, sans-serif" font-weight="bold" stroke="#000" stroke-width="0.22" >0.0</text>
<line x1="418.65" y1="381.86" x2="416.45" y2="381.86" stroke="#111" stroke-width="1.4"/>
<line x1="418.65" y1="369.32" x2="415.65" y2="369.32" stroke="#111" stroke-width="1.4"/>
<text x="415.3" y="373.6" font-size="12" text-anchor="end" font-family="Liberation Sans, sans-serif" font-weight="bold" stroke="#000" stroke-width="0.22" >0.5</text>
<line x1="418.65" y1="356.78" x2="416.45" y2="356.78" stroke="#111" stroke-width="1.4"/>
<line x1="418.65" y1="344.25" x2="415.65" y2="344.25" stroke="#111" stroke-width="1.4"/>
<text x="415.3" y="348.5" font-size="12" text-anchor="end" font-family="Liberation Sans, sans-serif" font-weight="bold" stroke="#000" stroke-width="0.22" >1.0</text>
<line x1="418.65" y1="331.71" x2="416.45" y2="331.71" stroke="#111" stroke-width="1.4"/>
<g fill="#cb68bd" clip-path="url(#cd)"><circle cx="418.6" cy="459.6" r="2.85"/><circle cx="418.2" cy="457.4" r="2.85"/><circle cx="418.6" cy="455.2" r="2.85"/><circle cx="418.5" cy="453.1" r="2.85"/><circle cx="418.5" cy="450.9" r="2.85"/><circle cx="418.7" cy="448.7" r="2.85"/><circle cx="418.5" cy="446.5" r="2.85"/><circle cx="418.7" cy="444.3" r="2.85"/><circle cx="418.8" cy="442.2" r="2.85"/><circle cx="418.6" cy="440.0" r="2.85"/><circle cx="418.4" cy="437.8" r="2.85"/><circle cx="418.5" cy="435.6" r="2.85"/><circle cx="418.7" cy="433.4" r="2.85"/><circle cx="418.6" cy="431.3" r="2.85"/><circle cx="418.5" cy="429.1" r="2.85"/><circle cx="418.6" cy="426.9" r="2.85"/><circle cx="418.7" cy="424.7" r="2.85"/><circle cx="418.6" cy="422.5" r="2.85"/><circle cx="418.7" cy="420.3" r="2.85"/><circle cx="418.5" cy="418.2" r="2.85"/><circle cx="418.6" cy="416.0" r="2.85"/><circle cx="418.6" cy="413.8" r="2.85"/><circle cx="418.6" cy="411.6" r="2.85"/><circle cx="418.3" cy="409.4" r="2.85"/><circle cx="420.2" cy="446.6" r="2.85"/><circle cx="420.2" cy="455.6" r="2.85"/><circle cx="420.3" cy="409.7" r="2.85"/><circle cx="420.6" cy="413.3" r="2.85"/><circle cx="420.9" cy="421.1" r="2.85"/><circle cx="421.2" cy="425.5" r="2.85"/><circle cx="421.5" cy="427.7" r="2.85"/><circle cx="421.8" cy="428.7" r="2.85"/><circle cx="422.1" cy="428.9" r="2.85"/><circle cx="422.4" cy="430.7" r="2.85"/><circle cx="422.7" cy="430.6" r="2.85"/><circle cx="423.0" cy="431.8" r="2.85"/><circle cx="423.3" cy="431.2" r="2.85"/><circle cx="423.6" cy="431.9" r="2.85"/><circle cx="423.9" cy="433.1" r="2.85"/><circle cx="424.2" cy="434.4" r="2.85"/><circle cx="424.5" cy="433.5" r="2.85"/><circle cx="424.8" cy="435.5" r="2.85"/><circle cx="425.0" cy="436.0" r="2.85"/><circle cx="425.5" cy="433.7" r="2.85"/><circle cx="426.0" cy="435.0" r="2.85"/><circle cx="426.5" cy="434.7" r="2.85"/><circle cx="427.0" cy="435.5" r="2.85"/><circle cx="427.5" cy="435.5" r="2.85"/><circle cx="428.0" cy="436.1" r="2.85"/><circle cx="428.5" cy="437.0" r="2.85"/><circle cx="429.0" cy="437.2" r="2.85"/><circle cx="429.5" cy="437.0" r="2.85"/><circle cx="430.0" cy="437.0" r="2.85"/><circle cx="430.5" cy="437.3" r="2.85"/><circle cx="431.0" cy="437.5" r="2.85"/><circle cx="431.8" cy="438.1" r="2.85"/><circle cx="432.6" cy="438.0" r="2.85"/><circle cx="433.4" cy="438.6" r="2.85"/><circle cx="434.2" cy="437.6" r="2.85"/><circle cx="435.0" cy="439.3" r="2.85"/><circle cx="435.8" cy="440.2" r="2.85"/><circle cx="436.6" cy="439.4" r="2.85"/><circle cx="437.4" cy="438.6" r="2.85"/><circle cx="438.2" cy="440.7" r="2.85"/><circle cx="439.0" cy="439.8" r="2.85"/><circle cx="439.8" cy="438.2" r="2.85"/><circle cx="440.6" cy="440.3" r="2.85"/><circle cx="441.4" cy="441.1" r="2.85"/><circle cx="442.2" cy="441.2" r="2.85"/><circle cx="443.0" cy="442.0" r="2.85"/><circle cx="443.8" cy="441.8" r="2.85"/><circle cx="444.6" cy="441.6" r="2.85"/><circle cx="445.4" cy="440.3" r="2.85"/><circle cx="446.2" cy="441.1" r="2.85"/><circle cx="447.0" cy="442.1" r="2.85"/><circle cx="447.8" cy="442.6" r="2.85"/><circle cx="448.6" cy="441.6" r="2.85"/><circle cx="449.4" cy="442.0" r="2.85"/><circle cx="450.2" cy="442.9" r="2.85"/><circle cx="451.0" cy="441.4" r="2.85"/><circle cx="451.8" cy="441.5" r="2.85"/><circle cx="452.6" cy="442.8" r="2.85"/><circle cx="453.4" cy="443.3" r="2.85"/><circle cx="454.2" cy="442.9" r="2.85"/><circle cx="455.0" cy="441.8" r="2.85"/><circle cx="455.8" cy="443.5" r="2.85"/><circle cx="456.6" cy="442.7" r="2.85"/><circle cx="458.8" cy="443.8" r="2.85"/><circle cx="466.3" cy="445.0" r="2.85"/><circle cx="473.6" cy="445.8" r="2.85"/><circle cx="481.8" cy="446.2" r="2.85"/><circle cx="488.9" cy="446.2" r="2.85"/><circle cx="498.8" cy="447.1" r="2.85"/><circle cx="509.6" cy="447.6" r="2.85"/><circle cx="520.1" cy="447.9" r="2.85"/><circle cx="530.8" cy="449.1" r="2.85"/><circle cx="542.1" cy="449.3" r="2.85"/><circle cx="552.4" cy="449.7" r="2.85"/><circle cx="563.6" cy="450.5" r="2.85"/><circle cx="575.0" cy="450.3" r="2.85"/><circle cx="585.1" cy="450.9" r="2.85"/><circle cx="596.2" cy="450.8" r="2.85"/><circle cx="607.4" cy="451.4" r="2.85"/><circle cx="618.5" cy="451.5" r="2.85"/><circle cx="629.3" cy="452.1" r="2.85"/><circle cx="639.7" cy="452.5" r="2.85"/><circle cx="650.2" cy="453.3" r="2.85"/><circle cx="660.6" cy="453.9" r="2.85"/><circle cx="670.9" cy="453.8" r="2.85"/></g>
<polyline points="420.30,409.50 420.55,412.85 420.80,418.00 421.05,422.20 421.30,424.82 421.55,426.50 421.80,427.75 422.05,428.66 422.30,429.41 422.55,430.04 422.80,430.59 423.05,431.06 423.30,431.49 423.55,431.88 423.80,432.24 424.05,432.59 424.30,432.92 424.55,433.22 424.80,433.51 425.05,433.78 425.30,434.02 425.55,434.25 425.80,434.45 426.05,434.64 426.30,434.81 426.55,434.97 426.80,435.12 427.05,435.26 427.30,435.40 427.55,435.53 427.80,435.65 428.05,435.77 428.30,435.89 428.55,436.00 428.80,436.10 429.05,436.21 429.30,436.31 429.55,436.41 429.80,436.52 430.00,436.60 431.00,437.00 432.00,437.37 433.00,437.72 434.00,438.06 435.00,438.38 436.00,438.70 437.00,439.02 438.00,439.33 439.00,439.64 440.00,439.94 441.00,440.22 442.00,440.50 443.00,440.76 444.00,441.00 445.00,441.22 446.00,441.43 447.00,441.62 448.00,441.80 449.00,441.98 450.00,442.16 451.00,442.33 452.00,442.50 453.00,442.67 454.00,442.83 455.00,442.99 456.00,443.14 457.00,443.29 458.00,443.43 459.00,443.57 460.00,443.70 461.00,443.83 462.00,443.95 463.00,444.07 464.00,444.19 465.00,444.30 466.00,444.41 467.00,444.52 468.00,444.63 469.00,444.73 470.00,444.82 471.00,444.91 472.00,445.00 473.00,445.08 474.00,445.17 475.00,445.24 476.00,445.32 477.00,445.40 478.00,445.47 479.00,445.54 480.00,445.61 481.00,445.68 482.00,445.74 483.00,445.81 484.00,445.87 485.00,445.94 486.00,446.00 487.00,446.06 488.00,446.12 489.00,446.18 490.00,446.24 491.00,446.30 492.00,446.36 493.00,446.42 494.00,446.47 495.00,446.53 496.00,446.58 497.00,446.64 498.00,446.69 499.00,446.74 500.00,446.79 501.00,446.84 502.00,446.90 503.00,446.95 504.00,447.00 505.00,447.05 506.00,447.10 507.00,447.15 508.00,447.20 509.00,447.25 510.00,447.30 511.00,447.35 512.00,447.40 513.00,447.45 514.00,447.51 515.00,447.56 516.00,447.61 517.00,447.66 518.00,447.71 519.00,447.77 520.00,447.82 521.00,447.87 522.00,447.92 523.00,447.97 524.00,448.03 525.00,448.08 526.00,448.13 527.00,448.18 528.00,448.23 529.00,448.28 530.00,448.33 531.00,448.38 532.00,448.43 533.00,448.48 534.00,448.53 535.00,448.58 536.00,448.63 537.00,448.68 538.00,448.72 539.00,448.77 540.00,448.82 541.00,448.86 542.00,448.91 543.00,448.96 544.00,449.00 545.00,449.04 546.00,449.09 547.00,449.13 548.00,449.18 549.00,449.22 550.00,449.26 551.00,449.30 552.00,449.35 553.00,449.39 554.00,449.43 555.00,449.47 556.00,449.51 557.00,449.55 558.00,449.59 559.00,449.64 560.00,449.68 561.00,449.72 562.00,449.76 563.00,449.80 564.00,449.84 565.00,449.88 566.00,449.91 567.00,449.95 568.00,449.99 569.00,450.03 570.00,450.07 571.00,450.11 572.00,450.15 573.00,450.19 574.00,450.22 575.00,450.26 576.00,450.30 577.00,450.34 578.00,450.38 579.00,450.41 580.00,450.45 581.00,450.49 582.00,450.53 583.00,450.56 584.00,450.60 585.00,450.64 586.00,450.68 587.00,450.71 588.00,450.75 589.00,450.79 590.00,450.83 591.00,450.86 592.00,450.90 593.00,450.94 594.00,450.98 595.00,451.01 596.00,451.05 597.00,451.09 598.00,451.12 599.00,451.16 600.00,451.20 601.00,451.24 602.00,451.28 603.00,451.31 604.00,451.35 605.00,451.39 606.00,451.43 607.00,451.46 608.00,451.50 609.00,451.54 610.00,451.57 611.00,451.61 612.00,451.65 613.00,451.69 614.00,451.72 615.00,451.76 616.00,451.80 617.00,451.83 618.00,451.87 619.00,451.91 620.00,451.94 621.00,451.98 622.00,452.02 623.00,452.05 624.00,452.09 625.00,452.13 626.00,452.16 627.00,452.20 628.00,452.24 629.00,452.27 630.00,452.31 631.00,452.35 632.00,452.38 633.00,452.42 634.00,452.46 635.00,452.49 636.00,452.53 637.00,452.56 638.00,452.60 639.00,452.64 640.00,452.67 641.00,452.71 642.00,452.74 643.00,452.78 644.00,452.81 645.00,452.85 646.00,452.89 647.00,452.92 648.00,452.96 649.00,452.99 650.00,453.03 651.00,453.06 652.00,453.10 653.00,453.13 654.00,453.17 655.00,453.20 656.00,453.24 657.00,453.27 658.00,453.31 659.00,453.34 660.00,453.38 661.00,453.41 662.00,453.45 663.00,453.48 664.00,453.52 665.00,453.55 666.00,453.59 667.00,453.62 668.00,453.66 669.00,453.69 670.00,453.72 671.00,453.76 672.00,453.79 673.00,453.83" fill="none" stroke="#c152b2" stroke-width="2.1" clip-path="url(#cd)"/>
<line x1="418.65" y1="459.60" x2="415.65" y2="459.60" stroke="#111" stroke-width="1.4"/>
<text x="415.3" y="463.9" font-size="12" text-anchor="end" font-family="Liberation Sans, sans-serif" font-weight="bold" stroke="#000" stroke-width="0.22" >0.0</text>
<line x1="418.65" y1="447.06" x2="416.45" y2="447.06" stroke="#111" stroke-width="1.4"/>
<line x1="418.65" y1="434.52" x2="415.65" y2="434.52" stroke="#111" stroke-width="1.4"/>
<text x="415.3" y="438.8" font-size="12" text-anchor="end" font-family="Liberation Sans, sans-serif" font-weight="bold" stroke="#000" stroke-width="0.22" >0.5</text>
<line x1="418.65" y1="421.98" x2="416.45" y2="421.98" stroke="#111" stroke-width="1.4"/>
<line x1="418.65" y1="409.45" x2="415.65" y2="409.45" stroke="#111" stroke-width="1.4"/>
<text x="415.3" y="413.7" font-size="12" text-anchor="end" font-family="Liberation Sans, sans-serif" font-weight="bold" stroke="#000" stroke-width="0.22" >1.0</text>
<line x1="418.65" y1="396.91" x2="416.45" y2="396.91" stroke="#111" stroke-width="1.4"/>
<line x1="420.30" y1="459.6" x2="420.30" y2="462.20000000000005" stroke="#111" stroke-width="1.4"/>
<text x="420.3" y="471.9" font-size="12" text-anchor="middle" font-family="Liberation Sans, sans-serif" font-weight="bold" stroke="#000" stroke-width="0.22" >0</text>
<line x1="456.30" y1="459.6" x2="456.30" y2="461.6" stroke="#111" stroke-width="1.4"/>
<line x1="492.30" y1="459.6" x2="492.30" y2="462.20000000000005" stroke="#111" stroke-width="1.4"/>
<text x="492.3" y="471.9" font-size="12" text-anchor="middle" font-family="Liberation Sans, sans-serif" font-weight="bold" stroke="#000" stroke-width="0.22" >2000</text>
<line x1="528.30" y1="459.6" x2="528.30" y2="461.6" stroke="#111" stroke-width="1.4"/>
<line x1="564.30" y1="459.6" x2="564.30" y2="462.20000000000005" stroke="#111" stroke-width="1.4"/>
<text x="564.3" y="471.9" font-size="12" text-anchor="middle" font-family="Liberation Sans, sans-serif" font-weight="bold" stroke="#000" stroke-width="0.22" >4000</text>
<line x1="600.30" y1="459.6" x2="600.30" y2="461.6" stroke="#111" stroke-width="1.4"/>
<line x1="636.30" y1="459.6" x2="636.30" y2="462.20000000000005" stroke="#111" stroke-width="1.4"/>
<text x="636.3" y="471.9" font-size="12" text-anchor="middle" font-family="Liberation Sans, sans-serif" font-weight="bold" stroke="#000" stroke-width="0.22" >6000</text>
<line x1="672.30" y1="459.6" x2="672.30" y2="461.6" stroke="#111" stroke-width="1.4"/>
<text x="363.9" y="286.7" font-size="22" text-anchor="start" font-family="Liberation Sans, sans-serif" font-weight="bold" stroke="#000" stroke-width="0.22" >d</text>
<text x="545.4" y="489.7" font-size="14.7" text-anchor="middle" font-family="Liberation Sans, sans-serif" font-weight="bold" stroke="#000" stroke-width="0.22" >Probe delay (ps)</text>
<text x="0" y="0" font-size="14.0" text-anchor="middle" font-family="Liberation Sans, sans-serif" font-weight="bold" stroke="#000" stroke-width="0.22" transform="translate(388.6,368.3) rotate(-90)">Normalized &#916;A</text>
<g transform="translate(447.0,292.29999999999995)" fill="none" stroke="#000" stroke-linecap="round"><path d="M0.6,2.4 Q0.9,0.9 2.4,0.9 L6.2,0.8" stroke-width="1.35"/><path d="M3.7,1.0 Q3.2,3.6 3.3,5.6 Q3.5,7.1 5.2,6.6" stroke-width="1.5"/></g>
<text x="454.0" y="303.7" font-size="8.8" text-anchor="start" font-family="Liberation Sans, sans-serif" font-weight="bold" stroke="#000" stroke-width="0.22" >Ave.</text>
<text x="472.0" y="299.2" font-size="14.2" text-anchor="start" font-family="Liberation Sans, sans-serif" font-weight="bold" stroke="#000" stroke-width="0.22" ><tspan dy="0.7">=</tspan><tspan dy="-0.7"> 4218.9 ps</tspan></text>
<g transform="translate(447.3,357.59999999999997)" fill="none" stroke="#000" stroke-linecap="round"><path d="M0.6,2.4 Q0.9,0.9 2.4,0.9 L6.2,0.8" stroke-width="1.35"/><path d="M3.7,1.0 Q3.2,3.6 3.3,5.6 Q3.5,7.1 5.2,6.6" stroke-width="1.5"/></g>
<text x="454.3" y="369.0" font-size="8.8" text-anchor="start" font-family="Liberation Sans, sans-serif" font-weight="bold" stroke="#000" stroke-width="0.22" >Ave.</text>
<text x="472.0" y="364.5" font-size="14.2" text-anchor="start" font-family="Liberation Sans, sans-serif" font-weight="bold" stroke="#000" stroke-width="0.22" ><tspan dy="0.7">=</tspan><tspan dy="-0.7"> 2173.5 ps</tspan></text>
<g transform="translate(445.4,426.4)" fill="none" stroke="#000" stroke-linecap="round"><path d="M0.6,2.4 Q0.9,0.9 2.4,0.9 L6.2,0.8" stroke-width="1.35"/><path d="M3.7,1.0 Q3.2,3.6 3.3,5.6 Q3.5,7.1 5.2,6.6" stroke-width="1.5"/></g>
<text x="452.4" y="437.8" font-size="8.8" text-anchor="start" font-family="Liberation Sans, sans-serif" font-weight="bold" stroke="#000" stroke-width="0.22" >Ave.</text>
<text x="473.40000000000003" y="433.3" font-size="14.2" text-anchor="start" font-family="Liberation Sans, sans-serif" font-weight="bold" stroke="#000" stroke-width="0.22" ><tspan dy="0.7">=</tspan><tspan dy="-0.7"> 1764.8 ps</tspan></text>
<circle cx="575.4" cy="292" r="2.9" fill="#2b2b2b"/>
<text x="583.0" y="294.3" font-size="13.4" text-anchor="start" font-family="Liberation Sans, sans-serif" font-weight="bold" stroke="#000" stroke-width="0.22" >L</text>
<line x1="568.6" y1="308.6" x2="582.3" y2="308.6" stroke="#000" stroke-width="2.2"/>
<text x="585.3" y="310.40000000000003" font-size="13.6" text-anchor="start" font-family="Liberation Sans, sans-serif" font-weight="bold" stroke="#000" stroke-width="0.22" >Fitting line</text>
<circle cx="575.4" cy="357" r="2.9" fill="#5c71c3"/>
<text x="581.6" y="359.3" font-size="13.4" text-anchor="start" font-family="Liberation Sans, sans-serif" font-weight="bold" stroke="#000" stroke-width="0.22" >D</text>
<line x1="568.6" y1="373.7" x2="582.3" y2="373.7" stroke="#3d51a9" stroke-width="2.2"/>
<text x="585.3" y="375.5" font-size="13.6" text-anchor="start" font-family="Liberation Sans, sans-serif" font-weight="bold" stroke="#000" stroke-width="0.22" >Fitting line</text>
<circle cx="575.4" cy="424.8" r="2.9" fill="#cb68bd"/>
<text x="581.4" y="427.1" font-size="13.4" text-anchor="start" font-family="Liberation Sans, sans-serif" font-weight="bold" stroke="#000" stroke-width="0.22" >DL</text>
<line x1="568.6" y1="442.6" x2="582.3" y2="442.6" stroke="#c152b2" stroke-width="2.2"/>
<text x="585.3" y="444.40000000000003" font-size="13.6" text-anchor="start" font-family="Liberation Sans, sans-serif" font-weight="bold" stroke="#000" stroke-width="0.22" >Fitting line</text>
</svg></div></body></html>
